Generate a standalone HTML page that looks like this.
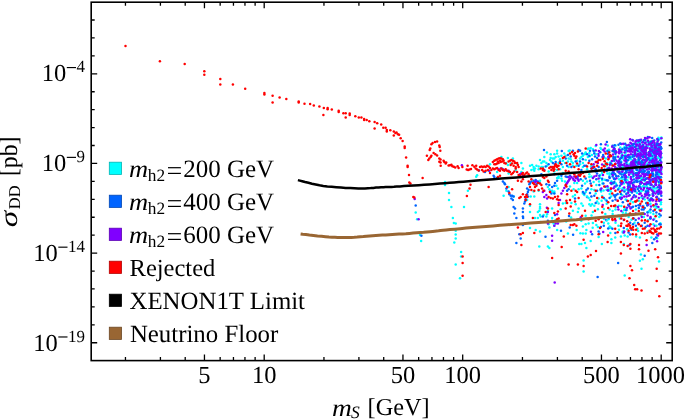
<!DOCTYPE html>
<html><head><meta charset="utf-8"><style>
html,body{margin:0;padding:0;background:#fff;}
svg{display:block;will-change:transform;}
text{font-family:"Liberation Serif",serif;fill:#000;text-rendering:geometricPrecision;}
.gl{will-change:transform;}
</style></head><body>
<svg width="685" height="420" viewBox="0 0 685 420">
<rect width="685" height="420" fill="#fff"/>
<g><circle cx="653.0" cy="193.0" r="1.25" fill="#00ffff"/><circle cx="655.1" cy="151.7" r="1.25" fill="#00ffff"/><circle cx="621.1" cy="178.1" r="1.25" fill="#00ffff"/><circle cx="625.9" cy="189.7" r="1.25" fill="#00ffff"/><circle cx="627.4" cy="180.3" r="1.25" fill="#00ffff"/><circle cx="606.6" cy="189.7" r="1.25" fill="#00ffff"/><circle cx="607.7" cy="145.6" r="1.25" fill="#00ffff"/><circle cx="626.6" cy="193.4" r="1.25" fill="#00ffff"/><circle cx="585.4" cy="154.0" r="1.25" fill="#00ffff"/><circle cx="649.2" cy="181.8" r="1.25" fill="#00ffff"/><circle cx="631.1" cy="191.9" r="1.25" fill="#00ffff"/><circle cx="600.5" cy="148.0" r="1.25" fill="#00ffff"/><circle cx="646.3" cy="202.8" r="1.25" fill="#00ffff"/><circle cx="624.7" cy="149.9" r="1.25" fill="#00ffff"/><circle cx="647.6" cy="183.4" r="1.25" fill="#00ffff"/><circle cx="569.7" cy="150.6" r="1.25" fill="#00ffff"/><circle cx="646.6" cy="160.7" r="1.25" fill="#00ffff"/><circle cx="638.1" cy="178.7" r="1.25" fill="#00ffff"/><circle cx="650.9" cy="149.7" r="1.25" fill="#00ffff"/><circle cx="546.9" cy="152.5" r="1.25" fill="#00ffff"/><circle cx="620.5" cy="196.9" r="1.25" fill="#00ffff"/><circle cx="602.2" cy="180.2" r="1.25" fill="#00ffff"/><circle cx="623.6" cy="189.1" r="1.25" fill="#00ffff"/><circle cx="653.9" cy="206.4" r="1.25" fill="#00ffff"/><circle cx="630.2" cy="186.8" r="1.25" fill="#00ffff"/><circle cx="648.0" cy="187.9" r="1.25" fill="#00ffff"/><circle cx="650.7" cy="148.5" r="1.25" fill="#00ffff"/><circle cx="641.7" cy="147.6" r="1.25" fill="#00ffff"/><circle cx="624.1" cy="209.9" r="1.25" fill="#00ffff"/><circle cx="640.0" cy="185.7" r="1.25" fill="#00ffff"/><circle cx="652.8" cy="151.7" r="1.25" fill="#00ffff"/><circle cx="634.0" cy="163.6" r="1.25" fill="#00ffff"/><circle cx="658.3" cy="146.1" r="1.25" fill="#00ffff"/><circle cx="660.9" cy="147.2" r="1.25" fill="#00ffff"/><circle cx="644.9" cy="142.7" r="1.25" fill="#00ffff"/><circle cx="637.2" cy="165.5" r="1.25" fill="#00ffff"/><circle cx="657.5" cy="179.9" r="1.25" fill="#00ffff"/><circle cx="631.0" cy="173.7" r="1.25" fill="#00ffff"/><circle cx="638.8" cy="142.1" r="1.25" fill="#00ffff"/><circle cx="639.7" cy="159.5" r="1.25" fill="#00ffff"/><circle cx="591.9" cy="154.9" r="1.25" fill="#00ffff"/><circle cx="647.3" cy="169.5" r="1.25" fill="#00ffff"/><circle cx="649.1" cy="154.4" r="1.25" fill="#00ffff"/><circle cx="641.4" cy="197.5" r="1.25" fill="#00ffff"/><circle cx="661.3" cy="172.1" r="1.25" fill="#00ffff"/><circle cx="609.5" cy="175.1" r="1.25" fill="#00ffff"/><circle cx="622.7" cy="188.2" r="1.25" fill="#00ffff"/><circle cx="637.3" cy="162.4" r="1.25" fill="#00ffff"/><circle cx="651.1" cy="158.3" r="1.25" fill="#00ffff"/><circle cx="652.9" cy="191.1" r="1.25" fill="#00ffff"/><circle cx="647.5" cy="212.1" r="1.25" fill="#00ffff"/><circle cx="654.4" cy="151.2" r="1.25" fill="#00ffff"/><circle cx="600.4" cy="188.9" r="1.25" fill="#00ffff"/><circle cx="658.1" cy="158.0" r="1.25" fill="#00ffff"/><circle cx="661.4" cy="137.6" r="1.25" fill="#00ffff"/><circle cx="659.3" cy="187.0" r="1.25" fill="#00ffff"/><circle cx="653.1" cy="173.8" r="1.25" fill="#00ffff"/><circle cx="638.0" cy="176.0" r="1.25" fill="#00ffff"/><circle cx="624.4" cy="147.2" r="1.25" fill="#00ffff"/><circle cx="641.8" cy="146.9" r="1.25" fill="#00ffff"/><circle cx="654.2" cy="153.8" r="1.25" fill="#00ffff"/><circle cx="602.4" cy="183.6" r="1.25" fill="#00ffff"/><circle cx="623.9" cy="183.6" r="1.25" fill="#00ffff"/><circle cx="647.8" cy="145.9" r="1.25" fill="#00ffff"/><circle cx="625.6" cy="208.7" r="1.25" fill="#00ffff"/><circle cx="639.3" cy="181.5" r="1.25" fill="#00ffff"/><circle cx="600.4" cy="175.0" r="1.25" fill="#00ffff"/><circle cx="660.2" cy="158.8" r="1.25" fill="#00ffff"/><circle cx="630.5" cy="156.6" r="1.25" fill="#00ffff"/><circle cx="654.1" cy="180.4" r="1.25" fill="#00ffff"/><circle cx="568.6" cy="151.0" r="1.25" fill="#00ffff"/><circle cx="644.5" cy="180.8" r="1.25" fill="#00ffff"/><circle cx="646.7" cy="183.4" r="1.25" fill="#00ffff"/><circle cx="640.1" cy="147.5" r="1.25" fill="#00ffff"/><circle cx="645.5" cy="146.5" r="1.25" fill="#00ffff"/><circle cx="623.5" cy="159.1" r="1.25" fill="#00ffff"/><circle cx="645.5" cy="153.2" r="1.25" fill="#00ffff"/><circle cx="581.3" cy="220.8" r="1.25" fill="#00ffff"/><circle cx="636.8" cy="153.8" r="1.25" fill="#00ffff"/><circle cx="615.7" cy="186.8" r="1.25" fill="#00ffff"/><circle cx="629.6" cy="159.0" r="1.25" fill="#00ffff"/><circle cx="609.5" cy="173.2" r="1.25" fill="#00ffff"/><circle cx="628.8" cy="147.1" r="1.25" fill="#00ffff"/><circle cx="658.4" cy="176.0" r="1.25" fill="#00ffff"/><circle cx="645.3" cy="193.4" r="1.25" fill="#00ffff"/><circle cx="620.9" cy="236.6" r="1.25" fill="#00ffff"/><circle cx="631.4" cy="159.4" r="1.25" fill="#00ffff"/><circle cx="644.0" cy="177.5" r="1.25" fill="#00ffff"/><circle cx="622.3" cy="195.1" r="1.25" fill="#00ffff"/><circle cx="653.6" cy="168.2" r="1.25" fill="#00ffff"/><circle cx="628.6" cy="155.5" r="1.25" fill="#00ffff"/><circle cx="659.3" cy="183.7" r="1.25" fill="#00ffff"/><circle cx="639.0" cy="171.9" r="1.25" fill="#00ffff"/><circle cx="625.9" cy="213.3" r="1.25" fill="#00ffff"/><circle cx="640.9" cy="171.5" r="1.25" fill="#00ffff"/><circle cx="656.1" cy="188.5" r="1.25" fill="#00ffff"/><circle cx="648.1" cy="219.9" r="1.25" fill="#00ffff"/><circle cx="621.2" cy="161.6" r="1.25" fill="#00ffff"/><circle cx="604.1" cy="165.0" r="1.25" fill="#00ffff"/><circle cx="660.8" cy="204.3" r="1.25" fill="#00ffff"/><circle cx="655.2" cy="205.8" r="1.25" fill="#00ffff"/><circle cx="610.9" cy="191.5" r="1.25" fill="#00ffff"/><circle cx="648.5" cy="173.6" r="1.25" fill="#00ffff"/><circle cx="636.7" cy="170.1" r="1.25" fill="#00ffff"/><circle cx="606.7" cy="165.6" r="1.25" fill="#00ffff"/><circle cx="652.4" cy="144.4" r="1.25" fill="#00ffff"/><circle cx="650.0" cy="153.6" r="1.25" fill="#00ffff"/><circle cx="646.9" cy="186.4" r="1.25" fill="#00ffff"/><circle cx="646.4" cy="173.3" r="1.25" fill="#00ffff"/><circle cx="649.9" cy="185.0" r="1.25" fill="#00ffff"/><circle cx="625.9" cy="152.4" r="1.25" fill="#00ffff"/><circle cx="640.8" cy="180.4" r="1.25" fill="#00ffff"/><circle cx="618.8" cy="205.7" r="1.25" fill="#00ffff"/><circle cx="628.8" cy="145.1" r="1.25" fill="#00ffff"/><circle cx="623.2" cy="188.3" r="1.25" fill="#00ffff"/><circle cx="622.8" cy="179.5" r="1.25" fill="#00ffff"/><circle cx="660.9" cy="153.6" r="1.25" fill="#00ffff"/><circle cx="648.5" cy="166.2" r="1.25" fill="#00ffff"/><circle cx="601.3" cy="149.2" r="1.25" fill="#00ffff"/><circle cx="608.3" cy="223.4" r="1.25" fill="#00ffff"/><circle cx="620.5" cy="191.9" r="1.25" fill="#00ffff"/><circle cx="618.9" cy="187.9" r="1.25" fill="#00ffff"/><circle cx="615.6" cy="145.5" r="1.25" fill="#00ffff"/><circle cx="638.6" cy="170.9" r="1.25" fill="#00ffff"/><circle cx="619.1" cy="179.2" r="1.25" fill="#00ffff"/><circle cx="643.9" cy="197.6" r="1.25" fill="#00ffff"/><circle cx="587.6" cy="149.0" r="1.25" fill="#00ffff"/><circle cx="660.5" cy="138.4" r="1.25" fill="#00ffff"/><circle cx="589.6" cy="156.2" r="1.25" fill="#00ffff"/><circle cx="631.8" cy="168.7" r="1.25" fill="#00ffff"/><circle cx="623.3" cy="174.1" r="1.25" fill="#00ffff"/><circle cx="640.8" cy="177.9" r="1.25" fill="#00ffff"/><circle cx="636.6" cy="165.7" r="1.25" fill="#00ffff"/><circle cx="637.0" cy="193.1" r="1.25" fill="#00ffff"/><circle cx="609.2" cy="190.3" r="1.25" fill="#00ffff"/><circle cx="626.8" cy="209.7" r="1.25" fill="#00ffff"/><circle cx="652.6" cy="186.0" r="1.25" fill="#00ffff"/><circle cx="621.0" cy="150.4" r="1.25" fill="#00ffff"/><circle cx="638.4" cy="174.0" r="1.25" fill="#00ffff"/><circle cx="650.2" cy="185.1" r="1.25" fill="#00ffff"/><circle cx="651.9" cy="152.1" r="1.25" fill="#00ffff"/><circle cx="629.7" cy="163.8" r="1.25" fill="#00ffff"/><circle cx="630.2" cy="191.4" r="1.25" fill="#00ffff"/><circle cx="630.5" cy="200.8" r="1.25" fill="#00ffff"/><circle cx="660.1" cy="159.4" r="1.25" fill="#00ffff"/><circle cx="658.4" cy="137.8" r="1.25" fill="#00ffff"/><circle cx="576.7" cy="230.0" r="1.25" fill="#00ffff"/><circle cx="602.0" cy="172.9" r="1.25" fill="#00ffff"/><circle cx="649.6" cy="159.3" r="1.25" fill="#00ffff"/><circle cx="647.4" cy="190.5" r="1.25" fill="#00ffff"/><circle cx="637.2" cy="187.6" r="1.25" fill="#00ffff"/><circle cx="642.9" cy="167.0" r="1.25" fill="#00ffff"/><circle cx="651.4" cy="169.4" r="1.25" fill="#00ffff"/><circle cx="658.9" cy="151.8" r="1.25" fill="#00ffff"/><circle cx="566.2" cy="221.5" r="1.25" fill="#00ffff"/><circle cx="616.1" cy="185.5" r="1.25" fill="#00ffff"/><circle cx="638.0" cy="176.2" r="1.25" fill="#00ffff"/><circle cx="655.2" cy="177.3" r="1.25" fill="#00ffff"/><circle cx="647.0" cy="141.8" r="1.25" fill="#00ffff"/><circle cx="625.9" cy="146.4" r="1.25" fill="#00ffff"/><circle cx="609.2" cy="190.3" r="1.25" fill="#00ffff"/><circle cx="652.6" cy="172.0" r="1.25" fill="#00ffff"/><circle cx="600.4" cy="170.7" r="1.25" fill="#00ffff"/><circle cx="650.7" cy="198.7" r="1.25" fill="#00ffff"/><circle cx="647.4" cy="163.5" r="1.25" fill="#00ffff"/><circle cx="636.8" cy="181.6" r="1.25" fill="#00ffff"/><circle cx="653.0" cy="158.0" r="1.25" fill="#00ffff"/><circle cx="628.4" cy="187.9" r="1.25" fill="#00ffff"/><circle cx="604.1" cy="157.6" r="1.25" fill="#00ffff"/><circle cx="626.5" cy="167.7" r="1.25" fill="#00ffff"/><circle cx="625.4" cy="147.0" r="1.25" fill="#00ffff"/><circle cx="628.8" cy="214.0" r="1.25" fill="#00ffff"/><circle cx="652.1" cy="172.6" r="1.25" fill="#00ffff"/><circle cx="651.6" cy="147.7" r="1.25" fill="#00ffff"/><circle cx="595.7" cy="146.0" r="1.25" fill="#00ffff"/><circle cx="652.1" cy="152.8" r="1.25" fill="#00ffff"/><circle cx="642.0" cy="179.3" r="1.25" fill="#00ffff"/><circle cx="599.0" cy="181.4" r="1.25" fill="#00ffff"/><circle cx="654.7" cy="188.3" r="1.25" fill="#00ffff"/><circle cx="660.3" cy="223.3" r="1.25" fill="#00ffff"/><circle cx="650.4" cy="160.0" r="1.25" fill="#00ffff"/><circle cx="659.0" cy="152.1" r="1.25" fill="#00ffff"/><circle cx="651.0" cy="150.1" r="1.25" fill="#00ffff"/><circle cx="633.6" cy="171.8" r="1.25" fill="#00ffff"/><circle cx="610.4" cy="170.3" r="1.25" fill="#00ffff"/><circle cx="657.8" cy="157.4" r="1.25" fill="#00ffff"/><circle cx="658.5" cy="139.0" r="1.25" fill="#00ffff"/><circle cx="648.6" cy="200.0" r="1.25" fill="#00ffff"/><circle cx="645.7" cy="151.0" r="1.25" fill="#00ffff"/><circle cx="660.7" cy="168.6" r="1.25" fill="#00ffff"/><circle cx="608.2" cy="187.8" r="1.25" fill="#00ffff"/><circle cx="610.2" cy="162.5" r="1.25" fill="#00ffff"/><circle cx="646.4" cy="165.2" r="1.25" fill="#00ffff"/><circle cx="540.7" cy="222.1" r="1.25" fill="#00ffff"/><circle cx="615.9" cy="156.5" r="1.25" fill="#00ffff"/><circle cx="625.1" cy="181.0" r="1.25" fill="#00ffff"/><circle cx="626.7" cy="145.2" r="1.25" fill="#00ffff"/><circle cx="633.3" cy="151.9" r="1.25" fill="#00ffff"/><circle cx="619.3" cy="188.2" r="1.25" fill="#00ffff"/><circle cx="615.8" cy="183.4" r="1.25" fill="#00ffff"/><circle cx="645.9" cy="194.8" r="1.25" fill="#00ffff"/><circle cx="659.9" cy="183.0" r="1.25" fill="#00ffff"/><circle cx="593.4" cy="166.1" r="1.25" fill="#00ffff"/><circle cx="630.1" cy="165.2" r="1.25" fill="#00ffff"/><circle cx="642.1" cy="178.5" r="1.25" fill="#00ffff"/><circle cx="595.5" cy="218.1" r="1.25" fill="#00ffff"/><circle cx="618.2" cy="163.6" r="1.25" fill="#00ffff"/><circle cx="654.3" cy="218.7" r="1.25" fill="#00ffff"/><circle cx="641.0" cy="145.7" r="1.25" fill="#00ffff"/><circle cx="649.2" cy="210.9" r="1.25" fill="#00ffff"/><circle cx="639.3" cy="177.8" r="1.25" fill="#0064ff"/><circle cx="615.4" cy="232.9" r="1.25" fill="#0064ff"/><circle cx="634.3" cy="156.0" r="1.25" fill="#0064ff"/><circle cx="640.3" cy="169.5" r="1.25" fill="#00ffff"/><circle cx="661.3" cy="195.8" r="1.25" fill="#0064ff"/><circle cx="628.1" cy="164.9" r="1.25" fill="#00ffff"/><circle cx="639.9" cy="205.4" r="1.25" fill="#0064ff"/><circle cx="659.3" cy="200.5" r="1.25" fill="#0064ff"/><circle cx="643.0" cy="207.3" r="1.25" fill="#00ffff"/><circle cx="655.7" cy="152.4" r="1.25" fill="#0064ff"/><circle cx="654.7" cy="168.7" r="1.25" fill="#0064ff"/><circle cx="648.9" cy="143.5" r="1.25" fill="#0064ff"/><circle cx="643.5" cy="186.4" r="1.25" fill="#0064ff"/><circle cx="633.5" cy="218.3" r="1.25" fill="#0064ff"/><circle cx="640.8" cy="187.2" r="1.25" fill="#00ffff"/><circle cx="643.4" cy="206.0" r="1.25" fill="#00ffff"/><circle cx="628.2" cy="177.2" r="1.25" fill="#00ffff"/><circle cx="657.9" cy="149.2" r="1.25" fill="#0064ff"/><circle cx="653.1" cy="143.5" r="1.25" fill="#00ffff"/><circle cx="617.6" cy="193.9" r="1.25" fill="#0064ff"/><circle cx="635.7" cy="219.9" r="1.25" fill="#0064ff"/><circle cx="635.2" cy="154.0" r="1.25" fill="#0064ff"/><circle cx="650.8" cy="143.2" r="1.25" fill="#0064ff"/><circle cx="616.1" cy="195.1" r="1.25" fill="#0064ff"/><circle cx="633.2" cy="187.2" r="1.25" fill="#0064ff"/><circle cx="628.6" cy="185.6" r="1.25" fill="#0064ff"/><circle cx="638.1" cy="231.1" r="1.25" fill="#00ffff"/><circle cx="648.7" cy="183.6" r="1.25" fill="#0064ff"/><circle cx="606.7" cy="163.9" r="1.25" fill="#0064ff"/><circle cx="653.7" cy="151.8" r="1.25" fill="#0064ff"/><circle cx="600.9" cy="144.3" r="1.25" fill="#0064ff"/><circle cx="651.7" cy="153.8" r="1.25" fill="#0064ff"/><circle cx="643.8" cy="164.5" r="1.25" fill="#0064ff"/><circle cx="652.0" cy="141.4" r="1.25" fill="#00ffff"/><circle cx="646.6" cy="193.1" r="1.25" fill="#0064ff"/><circle cx="649.1" cy="143.8" r="1.25" fill="#0064ff"/><circle cx="635.9" cy="166.0" r="1.25" fill="#0064ff"/><circle cx="620.2" cy="173.1" r="1.25" fill="#00ffff"/><circle cx="647.8" cy="159.3" r="1.25" fill="#0064ff"/><circle cx="649.4" cy="151.9" r="1.25" fill="#0064ff"/><circle cx="625.4" cy="154.7" r="1.25" fill="#00ffff"/><circle cx="661.1" cy="181.2" r="1.25" fill="#0064ff"/><circle cx="632.8" cy="170.8" r="1.25" fill="#00ffff"/><circle cx="639.6" cy="187.3" r="1.25" fill="#0064ff"/><circle cx="639.4" cy="151.7" r="1.25" fill="#0064ff"/><circle cx="620.8" cy="181.1" r="1.25" fill="#0064ff"/><circle cx="637.4" cy="143.3" r="1.25" fill="#00ffff"/><circle cx="611.7" cy="164.2" r="1.25" fill="#00ffff"/><circle cx="602.1" cy="195.9" r="1.25" fill="#00ffff"/><circle cx="654.7" cy="191.3" r="1.25" fill="#00ffff"/><circle cx="658.2" cy="161.7" r="1.25" fill="#0064ff"/><circle cx="626.5" cy="172.4" r="1.25" fill="#0064ff"/><circle cx="610.6" cy="182.9" r="1.25" fill="#00ffff"/><circle cx="649.9" cy="201.0" r="1.25" fill="#00ffff"/><circle cx="648.6" cy="141.7" r="1.25" fill="#0064ff"/><circle cx="653.8" cy="148.7" r="1.25" fill="#0064ff"/><circle cx="600.2" cy="177.9" r="1.25" fill="#00ffff"/><circle cx="624.2" cy="156.2" r="1.25" fill="#0064ff"/><circle cx="641.7" cy="163.9" r="1.25" fill="#0064ff"/><circle cx="646.1" cy="154.6" r="1.25" fill="#0064ff"/><circle cx="652.3" cy="144.6" r="1.25" fill="#00ffff"/><circle cx="650.3" cy="218.3" r="1.25" fill="#0064ff"/><circle cx="659.8" cy="192.2" r="1.25" fill="#0064ff"/><circle cx="623.4" cy="189.8" r="1.25" fill="#00ffff"/><circle cx="620.3" cy="147.5" r="1.25" fill="#00ffff"/><circle cx="621.2" cy="172.6" r="1.25" fill="#00ffff"/><circle cx="636.7" cy="177.2" r="1.25" fill="#0064ff"/><circle cx="637.8" cy="161.3" r="1.25" fill="#00ffff"/><circle cx="644.0" cy="149.4" r="1.25" fill="#0064ff"/><circle cx="661.0" cy="177.2" r="1.25" fill="#0064ff"/><circle cx="603.5" cy="190.6" r="1.25" fill="#00ffff"/><circle cx="640.6" cy="153.9" r="1.25" fill="#0064ff"/><circle cx="661.5" cy="157.4" r="1.25" fill="#00ffff"/><circle cx="650.7" cy="198.6" r="1.25" fill="#00ffff"/><circle cx="650.5" cy="156.5" r="1.25" fill="#00ffff"/><circle cx="636.6" cy="169.7" r="1.25" fill="#0064ff"/><circle cx="635.2" cy="191.3" r="1.25" fill="#0064ff"/><circle cx="657.7" cy="162.2" r="1.25" fill="#0064ff"/><circle cx="658.4" cy="194.0" r="1.25" fill="#0064ff"/><circle cx="622.1" cy="165.0" r="1.25" fill="#0064ff"/><circle cx="641.4" cy="165.9" r="1.25" fill="#0064ff"/><circle cx="641.4" cy="170.7" r="1.25" fill="#0064ff"/><circle cx="610.3" cy="232.9" r="1.25" fill="#00ffff"/><circle cx="622.1" cy="177.0" r="1.25" fill="#0064ff"/><circle cx="632.8" cy="162.4" r="1.25" fill="#00ffff"/><circle cx="652.2" cy="138.0" r="1.25" fill="#0064ff"/><circle cx="659.7" cy="173.2" r="1.25" fill="#0064ff"/><circle cx="619.6" cy="159.5" r="1.25" fill="#0064ff"/><circle cx="618.5" cy="144.8" r="1.25" fill="#0064ff"/><circle cx="643.9" cy="140.3" r="1.25" fill="#0064ff"/><circle cx="643.0" cy="142.1" r="1.25" fill="#0064ff"/><circle cx="655.7" cy="182.1" r="1.25" fill="#0064ff"/><circle cx="643.2" cy="186.3" r="1.25" fill="#00ffff"/><circle cx="656.4" cy="179.8" r="1.25" fill="#00ffff"/><circle cx="635.2" cy="197.3" r="1.25" fill="#00ffff"/><circle cx="626.1" cy="210.2" r="1.25" fill="#0064ff"/><circle cx="653.3" cy="190.1" r="1.25" fill="#00ffff"/><circle cx="642.6" cy="150.2" r="1.25" fill="#0064ff"/><circle cx="656.6" cy="180.7" r="1.25" fill="#0064ff"/><circle cx="642.6" cy="148.4" r="1.25" fill="#0064ff"/><circle cx="632.4" cy="164.5" r="1.25" fill="#0064ff"/><circle cx="659.5" cy="147.2" r="1.25" fill="#00ffff"/><circle cx="635.2" cy="161.7" r="1.25" fill="#0064ff"/><circle cx="661.2" cy="166.9" r="1.25" fill="#00ffff"/><circle cx="623.7" cy="173.9" r="1.25" fill="#00ffff"/><circle cx="634.2" cy="151.3" r="1.25" fill="#00ffff"/><circle cx="646.1" cy="148.0" r="1.25" fill="#0064ff"/><circle cx="638.2" cy="140.4" r="1.25" fill="#0064ff"/><circle cx="617.6" cy="171.6" r="1.25" fill="#0064ff"/><circle cx="657.8" cy="187.3" r="1.25" fill="#0064ff"/><circle cx="626.8" cy="148.0" r="1.25" fill="#0064ff"/><circle cx="636.7" cy="181.8" r="1.25" fill="#0064ff"/><circle cx="660.1" cy="173.2" r="1.25" fill="#00ffff"/><circle cx="643.2" cy="156.9" r="1.25" fill="#0064ff"/><circle cx="620.8" cy="182.6" r="1.25" fill="#0064ff"/><circle cx="592.7" cy="227.7" r="1.25" fill="#00ffff"/><circle cx="609.2" cy="150.8" r="1.25" fill="#0064ff"/><circle cx="602.2" cy="178.7" r="1.25" fill="#0064ff"/><circle cx="626.6" cy="150.3" r="1.25" fill="#0064ff"/><circle cx="658.7" cy="193.3" r="1.25" fill="#0064ff"/><circle cx="652.8" cy="149.5" r="1.25" fill="#00ffff"/><circle cx="661.0" cy="202.2" r="1.25" fill="#00ffff"/><circle cx="656.0" cy="170.6" r="1.25" fill="#00ffff"/><circle cx="639.5" cy="176.5" r="1.25" fill="#0064ff"/><circle cx="602.5" cy="157.0" r="1.25" fill="#0064ff"/><circle cx="647.6" cy="204.7" r="1.25" fill="#0064ff"/><circle cx="635.7" cy="181.4" r="1.25" fill="#00ffff"/><circle cx="632.0" cy="164.9" r="1.25" fill="#0064ff"/><circle cx="655.6" cy="175.1" r="1.25" fill="#0064ff"/><circle cx="585.6" cy="152.6" r="1.25" fill="#00ffff"/><circle cx="607.2" cy="162.9" r="1.25" fill="#00ffff"/><circle cx="605.8" cy="158.5" r="1.25" fill="#00ffff"/><circle cx="630.3" cy="146.4" r="1.25" fill="#0064ff"/><circle cx="648.6" cy="178.2" r="1.25" fill="#00ffff"/><circle cx="643.1" cy="150.1" r="1.25" fill="#0064ff"/><circle cx="650.5" cy="147.6" r="1.25" fill="#00ffff"/><circle cx="549.4" cy="227.4" r="1.25" fill="#00ffff"/><circle cx="656.4" cy="152.8" r="1.25" fill="#00ffff"/><circle cx="655.1" cy="161.5" r="1.25" fill="#00ffff"/><circle cx="636.7" cy="140.5" r="1.25" fill="#0064ff"/><circle cx="654.5" cy="161.8" r="1.25" fill="#0064ff"/><circle cx="639.6" cy="150.5" r="1.25" fill="#00ffff"/><circle cx="641.6" cy="156.0" r="1.25" fill="#0064ff"/><circle cx="642.3" cy="179.4" r="1.25" fill="#0064ff"/><circle cx="632.6" cy="177.1" r="1.25" fill="#00ffff"/><circle cx="652.2" cy="162.8" r="1.25" fill="#00ffff"/><circle cx="601.1" cy="191.6" r="1.25" fill="#00ffff"/><circle cx="652.6" cy="187.7" r="1.25" fill="#00ffff"/><circle cx="633.1" cy="189.7" r="1.25" fill="#0064ff"/><circle cx="607.4" cy="173.6" r="1.25" fill="#00ffff"/><circle cx="619.3" cy="150.4" r="1.25" fill="#0064ff"/><circle cx="647.7" cy="172.5" r="1.25" fill="#0064ff"/><circle cx="647.1" cy="165.9" r="1.25" fill="#0064ff"/><circle cx="642.5" cy="190.5" r="1.25" fill="#00ffff"/><circle cx="613.9" cy="195.2" r="1.25" fill="#0064ff"/><circle cx="619.1" cy="150.1" r="1.25" fill="#00ffff"/><circle cx="625.9" cy="176.2" r="1.25" fill="#0064ff"/><circle cx="643.7" cy="213.1" r="1.25" fill="#00ffff"/><circle cx="620.2" cy="161.3" r="1.25" fill="#00ffff"/><circle cx="621.7" cy="153.3" r="1.25" fill="#00ffff"/><circle cx="621.5" cy="155.6" r="1.25" fill="#00ffff"/><circle cx="624.4" cy="191.6" r="1.25" fill="#0064ff"/><circle cx="657.7" cy="148.6" r="1.25" fill="#0064ff"/><circle cx="640.1" cy="142.1" r="1.25" fill="#00ffff"/><circle cx="654.0" cy="182.1" r="1.25" fill="#00ffff"/><circle cx="623.9" cy="144.3" r="1.25" fill="#00ffff"/><circle cx="647.3" cy="205.5" r="1.25" fill="#0064ff"/><circle cx="626.2" cy="163.2" r="1.25" fill="#00ffff"/><circle cx="645.3" cy="187.0" r="1.25" fill="#00ffff"/><circle cx="611.7" cy="161.3" r="1.25" fill="#00ffff"/><circle cx="635.3" cy="168.2" r="1.25" fill="#0064ff"/><circle cx="640.2" cy="144.2" r="1.25" fill="#00ffff"/><circle cx="634.1" cy="195.3" r="1.25" fill="#0064ff"/><circle cx="623.2" cy="167.0" r="1.25" fill="#00ffff"/><circle cx="622.5" cy="148.7" r="1.25" fill="#00ffff"/><circle cx="648.3" cy="177.7" r="1.25" fill="#00ffff"/><circle cx="623.0" cy="157.3" r="1.25" fill="#00ffff"/><circle cx="600.2" cy="152.2" r="1.25" fill="#0064ff"/><circle cx="646.2" cy="147.0" r="1.25" fill="#0064ff"/><circle cx="621.0" cy="162.6" r="1.25" fill="#0064ff"/><circle cx="661.4" cy="208.9" r="1.25" fill="#00ffff"/><circle cx="658.7" cy="181.9" r="1.25" fill="#0064ff"/><circle cx="652.1" cy="199.3" r="1.25" fill="#0064ff"/><circle cx="653.2" cy="152.6" r="1.25" fill="#0064ff"/><circle cx="641.0" cy="162.3" r="1.25" fill="#0064ff"/><circle cx="569.7" cy="227.6" r="1.25" fill="#0064ff"/><circle cx="659.0" cy="169.4" r="1.25" fill="#0064ff"/><circle cx="658.7" cy="148.8" r="1.25" fill="#0064ff"/><circle cx="620.8" cy="194.1" r="1.25" fill="#0064ff"/><circle cx="603.9" cy="218.8" r="1.25" fill="#00ffff"/><circle cx="640.2" cy="192.6" r="1.25" fill="#00ffff"/><circle cx="653.1" cy="195.0" r="1.25" fill="#00ffff"/><circle cx="657.2" cy="139.5" r="1.25" fill="#00ffff"/><circle cx="637.1" cy="172.9" r="1.25" fill="#0064ff"/><circle cx="629.7" cy="168.2" r="1.25" fill="#0064ff"/><circle cx="626.5" cy="162.0" r="1.25" fill="#0064ff"/><circle cx="646.2" cy="154.5" r="1.25" fill="#0064ff"/><circle cx="651.6" cy="198.6" r="1.25" fill="#0064ff"/><circle cx="644.9" cy="160.0" r="1.25" fill="#0064ff"/><circle cx="624.1" cy="175.1" r="1.25" fill="#0064ff"/><circle cx="639.9" cy="140.0" r="1.25" fill="#0064ff"/><circle cx="641.9" cy="177.7" r="1.25" fill="#00ffff"/><circle cx="608.6" cy="219.2" r="1.25" fill="#00ffff"/><circle cx="600.6" cy="190.1" r="1.25" fill="#0064ff"/><circle cx="661.2" cy="142.4" r="1.25" fill="#0064ff"/><circle cx="660.6" cy="168.7" r="1.25" fill="#00ffff"/><circle cx="591.5" cy="215.5" r="1.25" fill="#00ffff"/><circle cx="649.8" cy="160.6" r="1.25" fill="#0064ff"/><circle cx="655.5" cy="169.0" r="1.25" fill="#0064ff"/><circle cx="630.8" cy="157.5" r="1.25" fill="#00ffff"/><circle cx="645.6" cy="161.1" r="1.25" fill="#0064ff"/><circle cx="629.1" cy="157.3" r="1.25" fill="#0064ff"/><circle cx="643.7" cy="178.5" r="1.25" fill="#00ffff"/><circle cx="644.9" cy="180.0" r="1.25" fill="#0064ff"/><circle cx="608.0" cy="180.5" r="1.25" fill="#0064ff"/><circle cx="643.1" cy="172.1" r="1.25" fill="#0064ff"/><circle cx="643.9" cy="150.0" r="1.25" fill="#0064ff"/><circle cx="645.3" cy="139.7" r="1.25" fill="#0064ff"/><circle cx="659.3" cy="173.1" r="1.25" fill="#0064ff"/><circle cx="654.1" cy="186.7" r="1.25" fill="#00ffff"/><circle cx="632.0" cy="192.6" r="1.25" fill="#0064ff"/><circle cx="646.3" cy="166.3" r="1.25" fill="#00ffff"/><circle cx="641.3" cy="191.1" r="1.25" fill="#00ffff"/><circle cx="656.2" cy="172.7" r="1.25" fill="#0064ff"/><circle cx="627.5" cy="170.2" r="1.25" fill="#0064ff"/><circle cx="635.6" cy="162.3" r="1.25" fill="#0064ff"/><circle cx="656.5" cy="161.5" r="1.25" fill="#00ffff"/><circle cx="609.7" cy="193.9" r="1.25" fill="#00ffff"/><circle cx="652.5" cy="155.9" r="1.25" fill="#0064ff"/><circle cx="618.3" cy="176.2" r="1.25" fill="#0064ff"/><circle cx="561.0" cy="230.7" r="1.25" fill="#0064ff"/><circle cx="636.1" cy="149.8" r="1.25" fill="#00ffff"/><circle cx="615.1" cy="174.2" r="1.25" fill="#0064ff"/><circle cx="622.2" cy="183.1" r="1.25" fill="#0064ff"/><circle cx="638.7" cy="157.3" r="1.25" fill="#0064ff"/><circle cx="646.4" cy="178.4" r="1.25" fill="#0064ff"/><circle cx="654.6" cy="144.5" r="1.25" fill="#0064ff"/><circle cx="640.7" cy="164.2" r="1.25" fill="#0064ff"/><circle cx="660.5" cy="178.0" r="1.25" fill="#00ffff"/><circle cx="638.4" cy="164.0" r="1.25" fill="#0064ff"/><circle cx="653.3" cy="146.2" r="1.25" fill="#00ffff"/><circle cx="657.4" cy="162.9" r="1.25" fill="#0064ff"/><circle cx="571.1" cy="217.4" r="1.25" fill="#00ffff"/><circle cx="636.1" cy="162.5" r="1.25" fill="#0064ff"/><circle cx="658.7" cy="174.3" r="1.25" fill="#00ffff"/><circle cx="634.9" cy="164.4" r="1.25" fill="#0064ff"/><circle cx="580.4" cy="233.3" r="1.25" fill="#00ffff"/><circle cx="655.8" cy="164.7" r="1.25" fill="#0064ff"/><circle cx="644.8" cy="171.1" r="1.25" fill="#0064ff"/><circle cx="638.7" cy="146.1" r="1.25" fill="#0064ff"/><circle cx="659.6" cy="174.1" r="1.25" fill="#00ffff"/><circle cx="611.4" cy="181.3" r="1.25" fill="#00ffff"/><circle cx="652.9" cy="160.6" r="1.25" fill="#0064ff"/><circle cx="624.4" cy="207.4" r="1.25" fill="#00ffff"/><circle cx="627.7" cy="183.6" r="1.25" fill="#0064ff"/><circle cx="636.4" cy="146.4" r="1.25" fill="#00ffff"/><circle cx="591.1" cy="166.3" r="1.25" fill="#00ffff"/><circle cx="661.3" cy="148.4" r="1.25" fill="#00ffff"/><circle cx="637.7" cy="166.6" r="1.25" fill="#0064ff"/><circle cx="619.0" cy="172.3" r="1.25" fill="#00ffff"/><circle cx="653.0" cy="175.9" r="1.25" fill="#0064ff"/><circle cx="656.2" cy="163.9" r="1.25" fill="#0064ff"/><circle cx="640.9" cy="152.6" r="1.25" fill="#00ffff"/><circle cx="645.7" cy="156.5" r="1.25" fill="#0064ff"/><circle cx="650.8" cy="144.1" r="1.25" fill="#0064ff"/><circle cx="608.9" cy="149.7" r="1.25" fill="#00ffff"/><circle cx="646.6" cy="189.9" r="1.25" fill="#00ffff"/><circle cx="655.6" cy="158.4" r="1.25" fill="#0064ff"/><circle cx="634.1" cy="146.5" r="1.25" fill="#00ffff"/><circle cx="624.6" cy="177.5" r="1.25" fill="#0064ff"/><circle cx="646.2" cy="165.5" r="1.25" fill="#00ffff"/><circle cx="657.5" cy="162.5" r="1.25" fill="#0064ff"/><circle cx="633.5" cy="175.9" r="1.25" fill="#0064ff"/><circle cx="656.7" cy="145.6" r="1.25" fill="#0064ff"/><circle cx="632.6" cy="172.3" r="1.25" fill="#00ffff"/><circle cx="636.0" cy="149.2" r="1.25" fill="#0064ff"/><circle cx="606.9" cy="142.1" r="1.25" fill="#0064ff"/><circle cx="634.0" cy="179.5" r="1.25" fill="#0064ff"/><circle cx="614.3" cy="178.7" r="1.25" fill="#0064ff"/><circle cx="660.7" cy="186.0" r="1.25" fill="#00ffff"/><circle cx="657.5" cy="171.6" r="1.25" fill="#00ffff"/><circle cx="642.3" cy="173.0" r="1.25" fill="#0064ff"/><circle cx="652.8" cy="153.9" r="1.25" fill="#00ffff"/><circle cx="658.7" cy="176.7" r="1.25" fill="#0064ff"/><circle cx="607.4" cy="150.6" r="1.25" fill="#00ffff"/><circle cx="604.8" cy="179.8" r="1.25" fill="#00ffff"/><circle cx="638.3" cy="148.4" r="1.25" fill="#0064ff"/><circle cx="613.4" cy="157.0" r="1.25" fill="#0064ff"/><circle cx="651.2" cy="141.6" r="1.25" fill="#0064ff"/><circle cx="638.0" cy="223.0" r="1.25" fill="#0064ff"/><circle cx="656.9" cy="196.8" r="1.25" fill="#0064ff"/><circle cx="650.5" cy="177.5" r="1.25" fill="#0064ff"/><circle cx="626.4" cy="166.3" r="1.25" fill="#0064ff"/><circle cx="619.3" cy="163.5" r="1.25" fill="#0064ff"/><circle cx="652.9" cy="164.7" r="1.25" fill="#0064ff"/><circle cx="626.8" cy="164.7" r="1.25" fill="#0064ff"/><circle cx="651.8" cy="147.1" r="1.25" fill="#0064ff"/><circle cx="630.5" cy="167.1" r="1.25" fill="#0064ff"/><circle cx="645.1" cy="154.2" r="1.25" fill="#0064ff"/><circle cx="612.6" cy="176.4" r="1.25" fill="#0064ff"/><circle cx="661.2" cy="161.9" r="1.25" fill="#0064ff"/><circle cx="632.7" cy="156.8" r="1.25" fill="#0064ff"/><circle cx="650.3" cy="150.1" r="1.25" fill="#0064ff"/><circle cx="647.1" cy="174.8" r="1.25" fill="#0064ff"/><circle cx="650.1" cy="151.2" r="1.25" fill="#0064ff"/><circle cx="618.3" cy="161.9" r="1.25" fill="#0064ff"/><circle cx="651.0" cy="150.6" r="1.25" fill="#0064ff"/><circle cx="635.4" cy="161.5" r="1.25" fill="#0064ff"/><circle cx="649.0" cy="195.4" r="1.25" fill="#0064ff"/><circle cx="616.8" cy="185.4" r="1.25" fill="#0064ff"/><circle cx="645.9" cy="191.5" r="1.25" fill="#0064ff"/><circle cx="607.6" cy="151.3" r="1.25" fill="#0064ff"/><circle cx="640.1" cy="175.7" r="1.25" fill="#0064ff"/><circle cx="640.2" cy="163.4" r="1.25" fill="#0064ff"/><circle cx="626.9" cy="167.0" r="1.25" fill="#0064ff"/><circle cx="580.1" cy="150.7" r="1.25" fill="#0064ff"/><circle cx="620.9" cy="167.6" r="1.25" fill="#0064ff"/><circle cx="615.7" cy="150.9" r="1.25" fill="#0064ff"/><circle cx="652.9" cy="162.9" r="1.25" fill="#0064ff"/><circle cx="646.3" cy="203.2" r="1.25" fill="#0064ff"/><circle cx="625.9" cy="156.3" r="1.25" fill="#0064ff"/><circle cx="645.2" cy="150.0" r="1.25" fill="#0064ff"/><circle cx="616.1" cy="176.0" r="1.25" fill="#0064ff"/><circle cx="638.2" cy="162.6" r="1.25" fill="#0064ff"/><circle cx="626.1" cy="159.7" r="1.25" fill="#0064ff"/><circle cx="630.5" cy="149.1" r="1.25" fill="#0064ff"/><circle cx="614.1" cy="160.8" r="1.25" fill="#0064ff"/><circle cx="639.1" cy="177.8" r="1.25" fill="#0064ff"/><circle cx="643.9" cy="151.4" r="1.25" fill="#0064ff"/><circle cx="631.5" cy="188.8" r="1.25" fill="#0064ff"/><circle cx="658.3" cy="166.7" r="1.25" fill="#0064ff"/><circle cx="650.8" cy="184.7" r="1.25" fill="#0064ff"/><circle cx="630.3" cy="146.2" r="1.25" fill="#0064ff"/><circle cx="660.8" cy="146.9" r="1.25" fill="#0064ff"/><circle cx="615.1" cy="157.6" r="1.25" fill="#0064ff"/><circle cx="620.2" cy="158.5" r="1.25" fill="#0064ff"/><circle cx="646.3" cy="184.4" r="1.25" fill="#0064ff"/><circle cx="657.2" cy="172.5" r="1.25" fill="#0064ff"/><circle cx="641.1" cy="146.9" r="1.25" fill="#0064ff"/><circle cx="611.9" cy="182.7" r="1.25" fill="#0064ff"/><circle cx="628.3" cy="190.8" r="1.25" fill="#0064ff"/><circle cx="648.9" cy="172.9" r="1.25" fill="#0064ff"/><circle cx="619.9" cy="185.8" r="1.25" fill="#0064ff"/><circle cx="635.4" cy="160.1" r="1.25" fill="#0064ff"/><circle cx="655.4" cy="184.5" r="1.25" fill="#0064ff"/><circle cx="645.3" cy="138.4" r="1.25" fill="#0064ff"/><circle cx="623.9" cy="175.5" r="1.25" fill="#0064ff"/><circle cx="642.3" cy="149.4" r="1.25" fill="#0064ff"/><circle cx="634.3" cy="190.5" r="1.25" fill="#0064ff"/><circle cx="613.8" cy="151.4" r="1.25" fill="#0064ff"/><circle cx="660.3" cy="177.1" r="1.25" fill="#0064ff"/><circle cx="660.2" cy="160.2" r="1.25" fill="#0064ff"/><circle cx="653.3" cy="165.8" r="1.25" fill="#0064ff"/><circle cx="635.9" cy="155.1" r="1.25" fill="#0064ff"/><circle cx="655.5" cy="180.2" r="1.25" fill="#0064ff"/><circle cx="623.1" cy="169.7" r="1.25" fill="#0064ff"/><circle cx="632.6" cy="145.4" r="1.25" fill="#0064ff"/><circle cx="610.8" cy="163.6" r="1.25" fill="#0064ff"/><circle cx="614.8" cy="179.2" r="1.25" fill="#0064ff"/><circle cx="612.7" cy="172.2" r="1.25" fill="#0064ff"/><circle cx="650.4" cy="149.4" r="1.25" fill="#0064ff"/><circle cx="644.3" cy="166.9" r="1.25" fill="#0064ff"/><circle cx="621.4" cy="157.9" r="1.25" fill="#0064ff"/><circle cx="614.3" cy="181.9" r="1.25" fill="#0064ff"/><circle cx="649.8" cy="164.6" r="1.25" fill="#0064ff"/><circle cx="626.4" cy="193.9" r="1.25" fill="#0064ff"/><circle cx="633.4" cy="174.4" r="1.25" fill="#0064ff"/><circle cx="634.3" cy="158.7" r="1.25" fill="#0064ff"/><circle cx="649.8" cy="200.2" r="1.25" fill="#0064ff"/><circle cx="624.8" cy="147.9" r="1.25" fill="#0064ff"/><circle cx="651.5" cy="160.8" r="1.25" fill="#0064ff"/><circle cx="616.9" cy="168.3" r="1.25" fill="#0064ff"/><circle cx="640.2" cy="170.4" r="1.25" fill="#0064ff"/><circle cx="661.4" cy="168.0" r="1.25" fill="#0064ff"/><circle cx="628.5" cy="184.1" r="1.25" fill="#0064ff"/><circle cx="644.1" cy="184.0" r="1.25" fill="#0064ff"/><circle cx="593.3" cy="168.0" r="1.25" fill="#0064ff"/><circle cx="635.2" cy="190.1" r="1.25" fill="#0064ff"/><circle cx="612.7" cy="170.6" r="1.25" fill="#0064ff"/><circle cx="638.8" cy="160.1" r="1.25" fill="#0064ff"/><circle cx="619.6" cy="166.3" r="1.25" fill="#0064ff"/><circle cx="655.9" cy="184.4" r="1.25" fill="#0064ff"/><circle cx="657.0" cy="153.7" r="1.25" fill="#0064ff"/><circle cx="641.9" cy="160.8" r="1.25" fill="#0064ff"/><circle cx="638.5" cy="205.2" r="1.25" fill="#0064ff"/><circle cx="661.2" cy="148.2" r="1.25" fill="#0064ff"/><circle cx="629.6" cy="185.6" r="1.25" fill="#0064ff"/><circle cx="622.0" cy="171.5" r="1.25" fill="#0064ff"/><circle cx="613.8" cy="150.8" r="1.25" fill="#0064ff"/><circle cx="625.6" cy="170.0" r="1.25" fill="#0064ff"/><circle cx="621.5" cy="174.5" r="1.25" fill="#0064ff"/><circle cx="620.7" cy="182.4" r="1.25" fill="#0064ff"/><circle cx="647.3" cy="183.6" r="1.25" fill="#0064ff"/><circle cx="655.9" cy="156.5" r="1.25" fill="#0064ff"/><circle cx="651.5" cy="145.5" r="1.25" fill="#0064ff"/><circle cx="628.0" cy="186.6" r="1.25" fill="#0064ff"/><circle cx="612.6" cy="145.8" r="1.25" fill="#0064ff"/><circle cx="631.4" cy="170.3" r="1.25" fill="#0064ff"/><circle cx="643.7" cy="154.0" r="1.25" fill="#0064ff"/><circle cx="624.9" cy="173.3" r="1.25" fill="#0064ff"/><circle cx="586.1" cy="165.8" r="1.25" fill="#0064ff"/><circle cx="631.4" cy="166.4" r="1.25" fill="#0064ff"/><circle cx="658.6" cy="198.7" r="1.25" fill="#0064ff"/><circle cx="605.5" cy="186.7" r="1.25" fill="#0064ff"/><circle cx="621.3" cy="164.7" r="1.25" fill="#8000ff"/><circle cx="643.1" cy="155.2" r="1.25" fill="#0064ff"/><circle cx="656.3" cy="159.2" r="1.25" fill="#8000ff"/><circle cx="603.5" cy="156.8" r="1.25" fill="#8000ff"/><circle cx="650.8" cy="176.3" r="1.25" fill="#0064ff"/><circle cx="659.2" cy="155.4" r="1.25" fill="#0064ff"/><circle cx="633.5" cy="173.6" r="1.25" fill="#8000ff"/><circle cx="606.6" cy="171.1" r="1.25" fill="#0064ff"/><circle cx="622.4" cy="149.3" r="1.25" fill="#0064ff"/><circle cx="590.9" cy="231.7" r="1.25" fill="#8000ff"/><circle cx="628.0" cy="160.3" r="1.25" fill="#0064ff"/><circle cx="653.7" cy="169.8" r="1.25" fill="#8000ff"/><circle cx="618.0" cy="189.6" r="1.25" fill="#0064ff"/><circle cx="641.5" cy="166.5" r="1.25" fill="#0064ff"/><circle cx="644.0" cy="148.0" r="1.25" fill="#8000ff"/><circle cx="613.4" cy="158.7" r="1.25" fill="#0064ff"/><circle cx="652.0" cy="167.8" r="1.25" fill="#0064ff"/><circle cx="615.3" cy="152.6" r="1.25" fill="#0064ff"/><circle cx="640.3" cy="146.8" r="1.25" fill="#0064ff"/><circle cx="652.9" cy="167.7" r="1.25" fill="#0064ff"/><circle cx="643.6" cy="209.5" r="1.25" fill="#0064ff"/><circle cx="651.0" cy="166.9" r="1.25" fill="#0064ff"/><circle cx="642.5" cy="173.9" r="1.25" fill="#8000ff"/><circle cx="651.3" cy="189.7" r="1.25" fill="#8000ff"/><circle cx="649.4" cy="195.1" r="1.25" fill="#0064ff"/><circle cx="660.7" cy="167.4" r="1.25" fill="#0064ff"/><circle cx="656.5" cy="177.9" r="1.25" fill="#8000ff"/><circle cx="645.2" cy="194.3" r="1.25" fill="#8000ff"/><circle cx="633.6" cy="185.4" r="1.25" fill="#8000ff"/><circle cx="620.7" cy="164.5" r="1.25" fill="#8000ff"/><circle cx="652.6" cy="194.0" r="1.25" fill="#0064ff"/><circle cx="656.6" cy="163.7" r="1.25" fill="#8000ff"/><circle cx="640.0" cy="169.3" r="1.25" fill="#0064ff"/><circle cx="650.0" cy="149.7" r="1.25" fill="#8000ff"/><circle cx="632.4" cy="183.0" r="1.25" fill="#0064ff"/><circle cx="627.8" cy="188.7" r="1.25" fill="#8000ff"/><circle cx="611.9" cy="174.0" r="1.25" fill="#0064ff"/><circle cx="573.1" cy="234.7" r="1.25" fill="#0064ff"/><circle cx="654.3" cy="178.6" r="1.25" fill="#0064ff"/><circle cx="618.1" cy="156.8" r="1.25" fill="#8000ff"/><circle cx="632.2" cy="162.2" r="1.25" fill="#8000ff"/><circle cx="655.0" cy="147.8" r="1.25" fill="#0064ff"/><circle cx="648.8" cy="171.4" r="1.25" fill="#0064ff"/><circle cx="599.3" cy="185.0" r="1.25" fill="#0064ff"/><circle cx="657.0" cy="174.3" r="1.25" fill="#0064ff"/><circle cx="647.6" cy="172.4" r="1.25" fill="#0064ff"/><circle cx="627.0" cy="165.6" r="1.25" fill="#8000ff"/><circle cx="641.1" cy="139.8" r="1.25" fill="#8000ff"/><circle cx="614.7" cy="149.1" r="1.25" fill="#8000ff"/><circle cx="628.7" cy="154.9" r="1.25" fill="#8000ff"/><circle cx="629.0" cy="148.7" r="1.25" fill="#8000ff"/><circle cx="648.8" cy="152.4" r="1.25" fill="#8000ff"/><circle cx="613.4" cy="183.3" r="1.25" fill="#0064ff"/><circle cx="609.1" cy="167.8" r="1.25" fill="#8000ff"/><circle cx="639.4" cy="187.1" r="1.25" fill="#0064ff"/><circle cx="621.2" cy="199.0" r="1.25" fill="#8000ff"/><circle cx="659.3" cy="189.8" r="1.25" fill="#0064ff"/><circle cx="657.3" cy="139.0" r="1.25" fill="#8000ff"/><circle cx="656.9" cy="176.9" r="1.25" fill="#0064ff"/><circle cx="639.7" cy="154.8" r="1.25" fill="#8000ff"/><circle cx="632.8" cy="144.5" r="1.25" fill="#0064ff"/><circle cx="603.4" cy="183.5" r="1.25" fill="#0064ff"/><circle cx="636.8" cy="156.6" r="1.25" fill="#8000ff"/><circle cx="544.0" cy="149.9" r="1.25" fill="#0064ff"/><circle cx="632.4" cy="140.1" r="1.25" fill="#0064ff"/><circle cx="606.6" cy="180.3" r="1.25" fill="#0064ff"/><circle cx="618.9" cy="151.8" r="1.25" fill="#8000ff"/><circle cx="650.2" cy="187.9" r="1.25" fill="#0064ff"/><circle cx="628.7" cy="144.9" r="1.25" fill="#8000ff"/><circle cx="621.2" cy="144.0" r="1.25" fill="#8000ff"/><circle cx="634.1" cy="182.2" r="1.25" fill="#0064ff"/><circle cx="561.8" cy="151.0" r="1.25" fill="#0064ff"/><circle cx="643.6" cy="150.3" r="1.25" fill="#0064ff"/><circle cx="618.9" cy="172.2" r="1.25" fill="#8000ff"/><circle cx="607.5" cy="168.5" r="1.25" fill="#0064ff"/><circle cx="645.0" cy="153.9" r="1.25" fill="#0064ff"/><circle cx="652.2" cy="180.8" r="1.25" fill="#0064ff"/><circle cx="660.7" cy="188.3" r="1.25" fill="#8000ff"/><circle cx="658.8" cy="144.0" r="1.25" fill="#8000ff"/><circle cx="643.8" cy="176.8" r="1.25" fill="#8000ff"/><circle cx="631.7" cy="207.4" r="1.25" fill="#0064ff"/><circle cx="653.5" cy="165.0" r="1.25" fill="#8000ff"/><circle cx="640.3" cy="164.6" r="1.25" fill="#8000ff"/><circle cx="615.0" cy="196.8" r="1.25" fill="#0064ff"/><circle cx="658.8" cy="145.6" r="1.25" fill="#8000ff"/><circle cx="629.0" cy="174.7" r="1.25" fill="#8000ff"/><circle cx="643.8" cy="152.4" r="1.25" fill="#8000ff"/><circle cx="657.2" cy="144.5" r="1.25" fill="#0064ff"/><circle cx="655.6" cy="182.8" r="1.25" fill="#8000ff"/><circle cx="657.8" cy="162.2" r="1.25" fill="#8000ff"/><circle cx="638.9" cy="186.2" r="1.25" fill="#8000ff"/><circle cx="649.5" cy="153.5" r="1.25" fill="#8000ff"/><circle cx="545.5" cy="236.8" r="1.25" fill="#0064ff"/><circle cx="660.8" cy="148.5" r="1.25" fill="#8000ff"/><circle cx="629.1" cy="182.2" r="1.25" fill="#8000ff"/><circle cx="660.1" cy="144.8" r="1.25" fill="#8000ff"/><circle cx="629.8" cy="187.3" r="1.25" fill="#0064ff"/><circle cx="619.4" cy="171.7" r="1.25" fill="#8000ff"/><circle cx="652.4" cy="179.2" r="1.25" fill="#0064ff"/><circle cx="640.1" cy="183.8" r="1.25" fill="#8000ff"/><circle cx="625.3" cy="150.5" r="1.25" fill="#0064ff"/><circle cx="636.4" cy="146.0" r="1.25" fill="#8000ff"/><circle cx="625.1" cy="179.4" r="1.25" fill="#0064ff"/><circle cx="640.5" cy="153.0" r="1.25" fill="#8000ff"/><circle cx="625.9" cy="160.9" r="1.25" fill="#8000ff"/><circle cx="654.3" cy="140.5" r="1.25" fill="#0064ff"/><circle cx="653.7" cy="191.9" r="1.25" fill="#0064ff"/><circle cx="640.4" cy="148.3" r="1.25" fill="#8000ff"/><circle cx="632.0" cy="191.2" r="1.25" fill="#8000ff"/><circle cx="643.8" cy="173.1" r="1.25" fill="#0064ff"/><circle cx="649.6" cy="175.2" r="1.25" fill="#0064ff"/><circle cx="646.0" cy="152.4" r="1.25" fill="#8000ff"/><circle cx="660.7" cy="215.5" r="1.25" fill="#0064ff"/><circle cx="655.8" cy="156.1" r="1.25" fill="#8000ff"/><circle cx="635.4" cy="165.7" r="1.25" fill="#8000ff"/><circle cx="631.8" cy="168.7" r="1.25" fill="#8000ff"/><circle cx="636.1" cy="186.7" r="1.25" fill="#8000ff"/><circle cx="613.8" cy="173.1" r="1.25" fill="#0064ff"/><circle cx="608.1" cy="190.5" r="1.25" fill="#0064ff"/><circle cx="658.6" cy="150.9" r="1.25" fill="#8000ff"/><circle cx="657.1" cy="143.2" r="1.25" fill="#0064ff"/><circle cx="643.4" cy="179.5" r="1.25" fill="#8000ff"/><circle cx="643.6" cy="157.3" r="1.25" fill="#0064ff"/><circle cx="624.2" cy="187.6" r="1.25" fill="#8000ff"/><circle cx="632.4" cy="151.7" r="1.25" fill="#8000ff"/><circle cx="647.2" cy="166.2" r="1.25" fill="#8000ff"/><circle cx="642.6" cy="151.3" r="1.25" fill="#0064ff"/><circle cx="657.6" cy="163.8" r="1.25" fill="#0064ff"/><circle cx="656.6" cy="152.9" r="1.25" fill="#8000ff"/><circle cx="653.5" cy="192.7" r="1.25" fill="#8000ff"/><circle cx="658.6" cy="190.0" r="1.25" fill="#0064ff"/><circle cx="605.6" cy="144.6" r="1.25" fill="#8000ff"/><circle cx="608.7" cy="217.8" r="1.25" fill="#0064ff"/><circle cx="633.0" cy="185.1" r="1.25" fill="#8000ff"/><circle cx="652.5" cy="200.6" r="1.25" fill="#8000ff"/><circle cx="660.0" cy="179.8" r="1.25" fill="#0064ff"/><circle cx="651.0" cy="206.5" r="1.25" fill="#8000ff"/><circle cx="657.2" cy="151.0" r="1.25" fill="#0064ff"/><circle cx="635.6" cy="173.2" r="1.25" fill="#0064ff"/><circle cx="609.7" cy="178.1" r="1.25" fill="#0064ff"/><circle cx="640.4" cy="171.7" r="1.25" fill="#0064ff"/><circle cx="638.6" cy="163.9" r="1.25" fill="#0064ff"/><circle cx="649.3" cy="155.4" r="1.25" fill="#8000ff"/><circle cx="569.0" cy="216.1" r="1.25" fill="#0064ff"/><circle cx="632.6" cy="165.7" r="1.25" fill="#8000ff"/><circle cx="632.0" cy="183.0" r="1.25" fill="#0064ff"/><circle cx="654.7" cy="165.4" r="1.25" fill="#0064ff"/><circle cx="609.3" cy="168.8" r="1.25" fill="#8000ff"/><circle cx="639.7" cy="144.2" r="1.25" fill="#8000ff"/><circle cx="611.5" cy="184.1" r="1.25" fill="#0064ff"/><circle cx="612.5" cy="151.1" r="1.25" fill="#0064ff"/><circle cx="641.0" cy="176.1" r="1.25" fill="#8000ff"/><circle cx="656.3" cy="170.0" r="1.25" fill="#8000ff"/><circle cx="628.9" cy="172.5" r="1.25" fill="#8000ff"/><circle cx="607.9" cy="153.7" r="1.25" fill="#0064ff"/><circle cx="655.9" cy="167.1" r="1.25" fill="#0064ff"/><circle cx="646.5" cy="154.2" r="1.25" fill="#0064ff"/><circle cx="648.7" cy="157.9" r="1.25" fill="#0064ff"/><circle cx="643.7" cy="149.4" r="1.25" fill="#8000ff"/><circle cx="645.2" cy="175.2" r="1.25" fill="#8000ff"/><circle cx="644.5" cy="175.2" r="1.25" fill="#8000ff"/><circle cx="638.5" cy="159.0" r="1.25" fill="#0064ff"/><circle cx="660.5" cy="187.7" r="1.25" fill="#8000ff"/><circle cx="630.1" cy="170.0" r="1.25" fill="#8000ff"/><circle cx="603.2" cy="155.0" r="1.25" fill="#0064ff"/><circle cx="657.4" cy="150.9" r="1.25" fill="#0064ff"/><circle cx="653.0" cy="167.1" r="1.25" fill="#0064ff"/><circle cx="613.9" cy="178.6" r="1.25" fill="#0064ff"/><circle cx="659.1" cy="185.3" r="1.25" fill="#8000ff"/><circle cx="652.5" cy="149.5" r="1.25" fill="#8000ff"/><circle cx="629.4" cy="206.5" r="1.25" fill="#8000ff"/><circle cx="633.0" cy="189.1" r="1.25" fill="#8000ff"/><circle cx="661.2" cy="162.8" r="1.25" fill="#8000ff"/><circle cx="625.2" cy="143.7" r="1.25" fill="#0064ff"/><circle cx="660.7" cy="149.1" r="1.25" fill="#0064ff"/><circle cx="642.8" cy="162.3" r="1.25" fill="#0064ff"/><circle cx="661.2" cy="153.3" r="1.25" fill="#0064ff"/><circle cx="641.9" cy="162.1" r="1.25" fill="#0064ff"/><circle cx="626.9" cy="207.8" r="1.25" fill="#8000ff"/><circle cx="629.1" cy="189.8" r="1.25" fill="#0064ff"/><circle cx="636.8" cy="181.6" r="1.25" fill="#8000ff"/><circle cx="602.1" cy="164.6" r="1.25" fill="#8000ff"/><circle cx="638.9" cy="191.0" r="1.25" fill="#0064ff"/><circle cx="638.5" cy="161.8" r="1.25" fill="#0064ff"/><circle cx="654.8" cy="166.4" r="1.25" fill="#0064ff"/><circle cx="625.4" cy="179.7" r="1.25" fill="#0064ff"/><circle cx="647.6" cy="157.7" r="1.25" fill="#0064ff"/><circle cx="658.4" cy="140.0" r="1.25" fill="#0064ff"/><circle cx="613.7" cy="170.7" r="1.25" fill="#8000ff"/><circle cx="617.9" cy="207.0" r="1.25" fill="#8000ff"/><circle cx="652.9" cy="165.3" r="1.25" fill="#8000ff"/><circle cx="658.1" cy="149.9" r="1.25" fill="#8000ff"/><circle cx="637.3" cy="169.7" r="1.25" fill="#0064ff"/><circle cx="634.5" cy="143.8" r="1.25" fill="#0064ff"/><circle cx="630.3" cy="167.7" r="1.25" fill="#8000ff"/><circle cx="655.6" cy="146.6" r="1.25" fill="#0064ff"/><circle cx="652.8" cy="159.0" r="1.25" fill="#0064ff"/><circle cx="636.2" cy="180.5" r="1.25" fill="#0064ff"/><circle cx="646.7" cy="160.4" r="1.25" fill="#8000ff"/><circle cx="626.1" cy="177.6" r="1.25" fill="#8000ff"/><circle cx="657.1" cy="153.1" r="1.25" fill="#8000ff"/><circle cx="633.4" cy="144.0" r="1.25" fill="#0064ff"/><circle cx="650.2" cy="179.9" r="1.25" fill="#8000ff"/><circle cx="641.0" cy="188.7" r="1.25" fill="#8000ff"/><circle cx="638.7" cy="162.8" r="1.25" fill="#8000ff"/><circle cx="640.4" cy="181.4" r="1.25" fill="#0064ff"/><circle cx="631.7" cy="188.5" r="1.25" fill="#8000ff"/><circle cx="625.4" cy="166.6" r="1.25" fill="#8000ff"/><circle cx="653.1" cy="195.2" r="1.25" fill="#0064ff"/><circle cx="636.0" cy="144.4" r="1.25" fill="#8000ff"/><circle cx="643.0" cy="174.0" r="1.25" fill="#8000ff"/><circle cx="612.2" cy="146.8" r="1.25" fill="#8000ff"/><circle cx="629.7" cy="195.3" r="1.25" fill="#0064ff"/><circle cx="659.0" cy="178.4" r="1.25" fill="#8000ff"/><circle cx="614.7" cy="145.3" r="1.25" fill="#0064ff"/><circle cx="580.8" cy="217.3" r="1.25" fill="#8000ff"/><circle cx="630.2" cy="146.0" r="1.25" fill="#0064ff"/><circle cx="645.0" cy="156.8" r="1.25" fill="#8000ff"/><circle cx="656.6" cy="204.3" r="1.25" fill="#0064ff"/><circle cx="638.7" cy="141.6" r="1.25" fill="#0064ff"/><circle cx="654.7" cy="225.7" r="1.25" fill="#8000ff"/><circle cx="604.5" cy="169.5" r="1.25" fill="#0064ff"/><circle cx="635.0" cy="152.3" r="1.25" fill="#8000ff"/><circle cx="652.2" cy="151.1" r="1.25" fill="#8000ff"/><circle cx="644.1" cy="152.4" r="1.25" fill="#8000ff"/><circle cx="635.7" cy="213.5" r="1.25" fill="#8000ff"/><circle cx="643.1" cy="145.0" r="1.25" fill="#0064ff"/><circle cx="634.1" cy="167.2" r="1.25" fill="#0064ff"/><circle cx="623.8" cy="220.1" r="1.25" fill="#0064ff"/><circle cx="626.5" cy="196.5" r="1.25" fill="#8000ff"/><circle cx="657.2" cy="192.1" r="1.25" fill="#8000ff"/><circle cx="620.2" cy="143.6" r="1.25" fill="#0064ff"/><circle cx="631.5" cy="170.4" r="1.25" fill="#8000ff"/><circle cx="659.0" cy="170.8" r="1.25" fill="#8000ff"/><circle cx="654.9" cy="155.2" r="1.25" fill="#0064ff"/><circle cx="613.5" cy="188.3" r="1.25" fill="#8000ff"/><circle cx="656.0" cy="147.1" r="1.25" fill="#0064ff"/><circle cx="640.4" cy="140.5" r="1.25" fill="#0064ff"/><circle cx="657.9" cy="144.8" r="1.25" fill="#8000ff"/><circle cx="637.6" cy="181.6" r="1.25" fill="#0064ff"/><circle cx="639.6" cy="171.5" r="1.25" fill="#0064ff"/><circle cx="646.4" cy="158.6" r="1.25" fill="#8000ff"/><circle cx="654.5" cy="150.6" r="1.25" fill="#0064ff"/><circle cx="615.5" cy="153.8" r="1.25" fill="#0064ff"/><circle cx="656.9" cy="176.7" r="1.25" fill="#8000ff"/><circle cx="618.4" cy="165.4" r="1.25" fill="#0064ff"/><circle cx="659.1" cy="153.4" r="1.25" fill="#8000ff"/><circle cx="598.4" cy="153.9" r="1.25" fill="#8000ff"/><circle cx="616.4" cy="178.2" r="1.25" fill="#8000ff"/><circle cx="632.3" cy="167.1" r="1.25" fill="#0064ff"/><circle cx="660.8" cy="181.0" r="1.25" fill="#8000ff"/><circle cx="614.6" cy="186.4" r="1.25" fill="#8000ff"/><circle cx="626.1" cy="171.4" r="1.25" fill="#0064ff"/><circle cx="642.9" cy="148.3" r="1.25" fill="#0064ff"/><circle cx="655.7" cy="170.5" r="1.25" fill="#8000ff"/><circle cx="654.8" cy="170.1" r="1.25" fill="#8000ff"/><circle cx="653.4" cy="164.7" r="1.25" fill="#0064ff"/><circle cx="610.7" cy="183.0" r="1.25" fill="#8000ff"/><circle cx="643.5" cy="146.7" r="1.25" fill="#0064ff"/><circle cx="660.6" cy="224.6" r="1.25" fill="#0064ff"/><circle cx="619.1" cy="149.6" r="1.25" fill="#8000ff"/><circle cx="631.4" cy="150.9" r="1.25" fill="#8000ff"/><circle cx="657.4" cy="153.3" r="1.25" fill="#0064ff"/><circle cx="630.2" cy="139.3" r="1.25" fill="#8000ff"/><circle cx="658.5" cy="165.5" r="1.25" fill="#0064ff"/><circle cx="656.1" cy="177.5" r="1.25" fill="#0064ff"/><circle cx="630.9" cy="149.1" r="1.25" fill="#8000ff"/><circle cx="660.1" cy="186.5" r="1.25" fill="#8000ff"/><circle cx="659.4" cy="147.7" r="1.25" fill="#0064ff"/><circle cx="658.9" cy="163.6" r="1.25" fill="#0064ff"/><circle cx="632.5" cy="171.7" r="1.25" fill="#8000ff"/><circle cx="660.5" cy="187.2" r="1.25" fill="#0064ff"/><circle cx="649.1" cy="152.2" r="1.25" fill="#0064ff"/><circle cx="643.2" cy="169.8" r="1.25" fill="#0064ff"/><circle cx="648.1" cy="192.3" r="1.25" fill="#8000ff"/><circle cx="661.1" cy="199.8" r="1.25" fill="#8000ff"/><circle cx="631.6" cy="198.9" r="1.25" fill="#8000ff"/><circle cx="660.5" cy="193.5" r="1.25" fill="#0064ff"/><circle cx="644.8" cy="184.1" r="1.25" fill="#8000ff"/><circle cx="655.2" cy="160.3" r="1.25" fill="#0064ff"/><circle cx="660.1" cy="163.0" r="1.25" fill="#8000ff"/><circle cx="633.9" cy="186.2" r="1.25" fill="#8000ff"/><circle cx="654.5" cy="153.6" r="1.25" fill="#0064ff"/><circle cx="659.9" cy="153.9" r="1.25" fill="#0064ff"/><circle cx="648.2" cy="191.0" r="1.25" fill="#0064ff"/><circle cx="645.0" cy="137.9" r="1.25" fill="#8000ff"/><circle cx="619.8" cy="173.4" r="1.25" fill="#0064ff"/><circle cx="654.5" cy="164.1" r="1.25" fill="#0064ff"/><circle cx="637.8" cy="188.9" r="1.25" fill="#0064ff"/><circle cx="614.0" cy="147.7" r="1.25" fill="#0064ff"/><circle cx="660.8" cy="187.6" r="1.25" fill="#0064ff"/><circle cx="629.6" cy="151.0" r="1.25" fill="#0064ff"/><circle cx="632.7" cy="163.0" r="1.25" fill="#0064ff"/><circle cx="628.1" cy="157.3" r="1.25" fill="#0064ff"/><circle cx="660.1" cy="170.2" r="1.25" fill="#0064ff"/><circle cx="635.0" cy="147.1" r="1.25" fill="#0064ff"/><circle cx="637.7" cy="150.9" r="1.25" fill="#0064ff"/><circle cx="657.4" cy="143.7" r="1.25" fill="#0064ff"/><circle cx="603.3" cy="150.0" r="1.25" fill="#8000ff"/><circle cx="598.9" cy="151.1" r="1.25" fill="#8000ff"/><circle cx="653.0" cy="173.9" r="1.25" fill="#0064ff"/><circle cx="630.1" cy="151.4" r="1.25" fill="#8000ff"/><circle cx="657.2" cy="207.1" r="1.25" fill="#0064ff"/><circle cx="611.9" cy="161.0" r="1.25" fill="#8000ff"/><circle cx="609.8" cy="155.1" r="1.25" fill="#8000ff"/><circle cx="658.5" cy="165.0" r="1.25" fill="#8000ff"/><circle cx="615.2" cy="159.3" r="1.25" fill="#0064ff"/><circle cx="646.0" cy="178.7" r="1.25" fill="#0064ff"/><circle cx="654.7" cy="162.7" r="1.25" fill="#8000ff"/><circle cx="645.0" cy="168.3" r="1.25" fill="#0064ff"/><circle cx="653.2" cy="151.2" r="1.25" fill="#0064ff"/><circle cx="609.4" cy="177.1" r="1.25" fill="#0064ff"/><circle cx="629.9" cy="157.6" r="1.25" fill="#0064ff"/><circle cx="621.7" cy="157.1" r="1.25" fill="#0064ff"/><circle cx="632.8" cy="154.8" r="1.25" fill="#0064ff"/><circle cx="649.1" cy="152.9" r="1.25" fill="#8000ff"/><circle cx="615.6" cy="168.9" r="1.25" fill="#8000ff"/><circle cx="651.9" cy="173.4" r="1.25" fill="#0064ff"/><circle cx="607.8" cy="190.3" r="1.25" fill="#8000ff"/><circle cx="601.4" cy="188.5" r="1.25" fill="#8000ff"/><circle cx="629.7" cy="170.6" r="1.25" fill="#0064ff"/><circle cx="645.3" cy="162.0" r="1.25" fill="#8000ff"/><circle cx="640.7" cy="183.8" r="1.25" fill="#0064ff"/><circle cx="655.5" cy="149.2" r="1.25" fill="#0064ff"/><circle cx="647.9" cy="136.9" r="1.25" fill="#0064ff"/><circle cx="596.3" cy="179.2" r="1.25" fill="#0064ff"/><circle cx="651.3" cy="175.2" r="1.25" fill="#0064ff"/><circle cx="630.4" cy="183.5" r="1.25" fill="#8000ff"/><circle cx="613.1" cy="154.4" r="1.25" fill="#8000ff"/><circle cx="650.3" cy="144.0" r="1.25" fill="#8000ff"/><circle cx="655.3" cy="178.6" r="1.25" fill="#8000ff"/><circle cx="658.4" cy="191.5" r="1.25" fill="#8000ff"/><circle cx="649.7" cy="181.6" r="1.25" fill="#0064ff"/><circle cx="618.3" cy="162.9" r="1.25" fill="#8000ff"/><circle cx="633.0" cy="160.7" r="1.25" fill="#8000ff"/><circle cx="650.1" cy="175.3" r="1.25" fill="#0064ff"/><circle cx="633.8" cy="162.8" r="1.25" fill="#8000ff"/><circle cx="644.9" cy="143.2" r="1.25" fill="#8000ff"/><circle cx="625.5" cy="157.9" r="1.25" fill="#8000ff"/><circle cx="604.6" cy="151.5" r="1.25" fill="#8000ff"/><circle cx="630.7" cy="172.5" r="1.25" fill="#8000ff"/><circle cx="630.9" cy="154.3" r="1.25" fill="#8000ff"/><circle cx="619.2" cy="153.3" r="1.25" fill="#8000ff"/><circle cx="613.7" cy="149.2" r="1.25" fill="#8000ff"/><circle cx="644.4" cy="163.4" r="1.25" fill="#8000ff"/><circle cx="622.4" cy="171.7" r="1.25" fill="#8000ff"/><circle cx="640.9" cy="182.1" r="1.25" fill="#8000ff"/><circle cx="648.0" cy="140.8" r="1.25" fill="#8000ff"/><circle cx="648.6" cy="174.9" r="1.25" fill="#8000ff"/><circle cx="646.6" cy="195.3" r="1.25" fill="#8000ff"/><circle cx="619.0" cy="161.5" r="1.25" fill="#8000ff"/><circle cx="641.3" cy="154.8" r="1.25" fill="#8000ff"/><circle cx="639.3" cy="194.0" r="1.25" fill="#8000ff"/><circle cx="647.3" cy="138.3" r="1.25" fill="#8000ff"/><circle cx="657.6" cy="141.4" r="1.25" fill="#8000ff"/><circle cx="596.3" cy="145.0" r="1.25" fill="#8000ff"/><circle cx="660.8" cy="153.1" r="1.25" fill="#8000ff"/><circle cx="644.2" cy="164.2" r="1.25" fill="#8000ff"/><circle cx="641.6" cy="167.8" r="1.25" fill="#8000ff"/><circle cx="652.5" cy="191.0" r="1.25" fill="#8000ff"/><circle cx="609.9" cy="164.8" r="1.25" fill="#8000ff"/><circle cx="608.8" cy="156.5" r="1.25" fill="#8000ff"/><circle cx="625.1" cy="175.3" r="1.25" fill="#8000ff"/><circle cx="607.4" cy="186.3" r="1.25" fill="#8000ff"/><circle cx="652.5" cy="160.5" r="1.25" fill="#8000ff"/><circle cx="643.0" cy="198.8" r="1.25" fill="#8000ff"/><circle cx="661.0" cy="191.6" r="1.25" fill="#8000ff"/><circle cx="633.7" cy="164.5" r="1.25" fill="#8000ff"/><circle cx="644.3" cy="166.5" r="1.25" fill="#8000ff"/><circle cx="648.2" cy="154.7" r="1.25" fill="#8000ff"/><circle cx="638.8" cy="140.5" r="1.25" fill="#8000ff"/><circle cx="647.1" cy="169.6" r="1.25" fill="#8000ff"/><circle cx="661.4" cy="167.0" r="1.25" fill="#8000ff"/><circle cx="656.9" cy="169.4" r="1.25" fill="#8000ff"/><circle cx="644.2" cy="153.9" r="1.25" fill="#8000ff"/><circle cx="659.8" cy="187.7" r="1.25" fill="#8000ff"/><circle cx="651.7" cy="146.0" r="1.25" fill="#8000ff"/><circle cx="650.8" cy="174.2" r="1.25" fill="#8000ff"/><circle cx="642.0" cy="154.4" r="1.25" fill="#8000ff"/><circle cx="630.7" cy="148.4" r="1.25" fill="#8000ff"/><circle cx="645.5" cy="147.5" r="1.25" fill="#8000ff"/><circle cx="649.6" cy="137.3" r="1.25" fill="#8000ff"/><circle cx="634.6" cy="188.7" r="1.25" fill="#8000ff"/><circle cx="660.5" cy="172.3" r="1.25" fill="#8000ff"/><circle cx="645.0" cy="175.9" r="1.25" fill="#8000ff"/><circle cx="658.8" cy="149.0" r="1.25" fill="#8000ff"/><circle cx="625.5" cy="157.9" r="1.25" fill="#8000ff"/><circle cx="639.7" cy="146.4" r="1.25" fill="#8000ff"/><circle cx="638.1" cy="175.0" r="1.25" fill="#8000ff"/><circle cx="643.4" cy="189.7" r="1.25" fill="#8000ff"/><circle cx="621.3" cy="152.1" r="1.25" fill="#8000ff"/><circle cx="653.9" cy="153.2" r="1.25" fill="#8000ff"/><circle cx="656.1" cy="185.0" r="1.25" fill="#8000ff"/><circle cx="615.9" cy="168.7" r="1.25" fill="#8000ff"/><circle cx="617.8" cy="200.7" r="1.25" fill="#8000ff"/><circle cx="608.4" cy="169.7" r="1.25" fill="#8000ff"/><circle cx="650.0" cy="148.4" r="1.25" fill="#8000ff"/><circle cx="616.6" cy="160.7" r="1.25" fill="#8000ff"/><circle cx="627.7" cy="155.5" r="1.25" fill="#8000ff"/><circle cx="657.0" cy="191.5" r="1.25" fill="#8000ff"/><circle cx="657.2" cy="166.0" r="1.25" fill="#8000ff"/><circle cx="649.2" cy="162.4" r="1.25" fill="#8000ff"/><circle cx="632.6" cy="147.4" r="1.25" fill="#8000ff"/><circle cx="631.6" cy="148.3" r="1.25" fill="#8000ff"/><circle cx="649.0" cy="144.4" r="1.25" fill="#8000ff"/><circle cx="626.3" cy="182.3" r="1.25" fill="#8000ff"/><circle cx="656.9" cy="167.0" r="1.25" fill="#8000ff"/><circle cx="632.9" cy="148.7" r="1.25" fill="#8000ff"/><circle cx="658.4" cy="206.9" r="1.25" fill="#8000ff"/><circle cx="653.3" cy="140.9" r="1.25" fill="#8000ff"/><circle cx="656.2" cy="160.6" r="1.25" fill="#8000ff"/><circle cx="660.5" cy="151.3" r="1.25" fill="#8000ff"/><circle cx="610.9" cy="188.8" r="1.25" fill="#8000ff"/><circle cx="651.5" cy="170.2" r="1.25" fill="#8000ff"/><circle cx="656.0" cy="180.9" r="1.25" fill="#8000ff"/><circle cx="661.4" cy="182.2" r="1.25" fill="#8000ff"/><circle cx="643.1" cy="165.1" r="1.25" fill="#8000ff"/><circle cx="634.2" cy="166.0" r="1.25" fill="#8000ff"/><circle cx="656.1" cy="147.8" r="1.25" fill="#8000ff"/><circle cx="652.3" cy="171.0" r="1.25" fill="#8000ff"/><circle cx="660.6" cy="154.4" r="1.25" fill="#8000ff"/><circle cx="624.1" cy="165.2" r="1.25" fill="#8000ff"/><circle cx="660.9" cy="165.4" r="1.25" fill="#8000ff"/><circle cx="619.1" cy="160.9" r="1.25" fill="#8000ff"/><circle cx="647.8" cy="182.3" r="1.25" fill="#8000ff"/><circle cx="643.2" cy="168.0" r="1.25" fill="#8000ff"/><circle cx="628.2" cy="192.7" r="1.25" fill="#8000ff"/><circle cx="646.6" cy="144.7" r="1.25" fill="#8000ff"/><circle cx="630.2" cy="151.3" r="1.25" fill="#8000ff"/><circle cx="643.2" cy="151.7" r="1.25" fill="#8000ff"/><circle cx="659.6" cy="171.9" r="1.25" fill="#8000ff"/><circle cx="634.2" cy="164.0" r="1.25" fill="#8000ff"/><circle cx="654.7" cy="164.9" r="1.25" fill="#8000ff"/><circle cx="619.4" cy="165.3" r="1.25" fill="#8000ff"/><circle cx="604.8" cy="148.6" r="1.25" fill="#8000ff"/><circle cx="602.7" cy="204.9" r="1.25" fill="#8000ff"/><circle cx="659.9" cy="155.8" r="1.25" fill="#8000ff"/><circle cx="655.6" cy="150.8" r="1.25" fill="#8000ff"/><circle cx="636.6" cy="178.2" r="1.25" fill="#8000ff"/><circle cx="636.1" cy="174.9" r="1.25" fill="#8000ff"/><circle cx="603.2" cy="232.1" r="1.25" fill="#8000ff"/><circle cx="630.6" cy="165.4" r="1.25" fill="#8000ff"/><circle cx="660.4" cy="155.8" r="1.25" fill="#8000ff"/><circle cx="638.9" cy="163.5" r="1.25" fill="#8000ff"/><circle cx="636.4" cy="150.1" r="1.25" fill="#8000ff"/><circle cx="643.1" cy="159.7" r="1.25" fill="#8000ff"/><circle cx="650.5" cy="155.8" r="1.25" fill="#8000ff"/><circle cx="630.5" cy="189.9" r="1.25" fill="#8000ff"/><circle cx="631.6" cy="166.3" r="1.25" fill="#8000ff"/><circle cx="652.2" cy="161.3" r="1.25" fill="#8000ff"/><circle cx="616.4" cy="152.3" r="1.25" fill="#8000ff"/><circle cx="661.4" cy="138.2" r="1.25" fill="#8000ff"/><circle cx="623.2" cy="143.8" r="1.25" fill="#8000ff"/><circle cx="636.0" cy="148.7" r="1.25" fill="#8000ff"/><circle cx="650.5" cy="182.9" r="1.25" fill="#8000ff"/><circle cx="660.7" cy="193.4" r="1.25" fill="#8000ff"/><circle cx="646.5" cy="182.6" r="1.25" fill="#8000ff"/><circle cx="658.7" cy="149.9" r="1.25" fill="#8000ff"/><circle cx="635.0" cy="154.2" r="1.25" fill="#8000ff"/><circle cx="661.1" cy="169.7" r="1.25" fill="#8000ff"/><circle cx="656.2" cy="179.8" r="1.25" fill="#8000ff"/><circle cx="648.7" cy="179.1" r="1.25" fill="#8000ff"/><circle cx="660.7" cy="157.5" r="1.25" fill="#8000ff"/><circle cx="660.4" cy="144.1" r="1.25" fill="#8000ff"/><circle cx="658.1" cy="177.3" r="1.25" fill="#8000ff"/><circle cx="609.0" cy="157.8" r="1.25" fill="#8000ff"/><circle cx="661.2" cy="182.0" r="1.25" fill="#8000ff"/><circle cx="655.9" cy="203.9" r="1.25" fill="#8000ff"/><circle cx="622.8" cy="182.2" r="1.25" fill="#8000ff"/><circle cx="624.6" cy="152.5" r="1.25" fill="#8000ff"/><circle cx="661.0" cy="210.4" r="1.25" fill="#8000ff"/><circle cx="631.8" cy="189.6" r="1.25" fill="#8000ff"/><circle cx="654.6" cy="147.3" r="1.25" fill="#8000ff"/><circle cx="631.4" cy="143.8" r="1.25" fill="#8000ff"/><circle cx="622.0" cy="197.7" r="1.25" fill="#8000ff"/><circle cx="649.0" cy="189.0" r="1.25" fill="#8000ff"/><circle cx="644.0" cy="188.0" r="1.25" fill="#8000ff"/><circle cx="631.4" cy="163.5" r="1.25" fill="#8000ff"/><circle cx="638.0" cy="153.9" r="1.25" fill="#8000ff"/><circle cx="654.0" cy="181.6" r="1.25" fill="#8000ff"/><circle cx="654.5" cy="145.3" r="1.25" fill="#8000ff"/><circle cx="631.0" cy="171.9" r="1.25" fill="#8000ff"/><circle cx="640.2" cy="156.1" r="1.25" fill="#8000ff"/><circle cx="638.8" cy="178.1" r="1.25" fill="#8000ff"/><circle cx="645.7" cy="173.9" r="1.25" fill="#8000ff"/><circle cx="642.6" cy="206.4" r="1.25" fill="#8000ff"/><circle cx="624.5" cy="160.5" r="1.25" fill="#8000ff"/><circle cx="546.9" cy="207.8" r="1.25" fill="#8000ff"/><circle cx="645.8" cy="150.1" r="1.25" fill="#8000ff"/><circle cx="645.7" cy="174.2" r="1.25" fill="#8000ff"/><circle cx="642.0" cy="150.4" r="1.25" fill="#8000ff"/><circle cx="655.9" cy="180.9" r="1.25" fill="#8000ff"/><circle cx="652.4" cy="168.3" r="1.25" fill="#8000ff"/><circle cx="636.5" cy="141.0" r="1.25" fill="#8000ff"/><circle cx="657.8" cy="153.5" r="1.25" fill="#8000ff"/><circle cx="619.4" cy="168.7" r="1.25" fill="#8000ff"/><circle cx="653.3" cy="141.5" r="1.25" fill="#8000ff"/><circle cx="634.8" cy="153.0" r="1.25" fill="#8000ff"/><circle cx="634.8" cy="150.4" r="1.25" fill="#8000ff"/><circle cx="621.8" cy="190.4" r="1.25" fill="#8000ff"/><circle cx="654.6" cy="142.9" r="1.25" fill="#8000ff"/><circle cx="630.5" cy="208.5" r="1.25" fill="#8000ff"/><circle cx="628.3" cy="204.8" r="1.25" fill="#8000ff"/><circle cx="641.4" cy="150.4" r="1.25" fill="#8000ff"/><circle cx="613.7" cy="165.7" r="1.25" fill="#8000ff"/><circle cx="644.8" cy="148.2" r="1.25" fill="#8000ff"/><circle cx="630.9" cy="178.7" r="1.25" fill="#8000ff"/><circle cx="638.9" cy="172.5" r="1.25" fill="#8000ff"/><circle cx="621.4" cy="184.2" r="1.25" fill="#8000ff"/><circle cx="631.8" cy="166.7" r="1.25" fill="#8000ff"/><circle cx="643.7" cy="167.1" r="1.25" fill="#8000ff"/><circle cx="640.5" cy="193.6" r="1.25" fill="#8000ff"/><circle cx="622.4" cy="155.2" r="1.25" fill="#8000ff"/><circle cx="655.5" cy="193.6" r="1.25" fill="#8000ff"/><circle cx="660.0" cy="155.5" r="1.25" fill="#8000ff"/><circle cx="631.2" cy="181.7" r="1.25" fill="#8000ff"/><circle cx="640.3" cy="169.8" r="1.25" fill="#8000ff"/><circle cx="628.0" cy="151.3" r="1.25" fill="#8000ff"/><circle cx="641.9" cy="182.8" r="1.25" fill="#8000ff"/><circle cx="656.2" cy="201.3" r="1.25" fill="#8000ff"/><circle cx="619.8" cy="167.5" r="1.25" fill="#8000ff"/><circle cx="640.1" cy="148.6" r="1.25" fill="#8000ff"/><circle cx="652.9" cy="169.6" r="1.25" fill="#8000ff"/><circle cx="661.4" cy="167.3" r="1.25" fill="#8000ff"/><circle cx="647.3" cy="188.2" r="1.25" fill="#8000ff"/><circle cx="652.8" cy="178.9" r="1.25" fill="#8000ff"/><circle cx="649.2" cy="168.8" r="1.25" fill="#8000ff"/><circle cx="642.5" cy="145.9" r="1.25" fill="#8000ff"/><circle cx="587.0" cy="197.1" r="1.25" fill="#8000ff"/><circle cx="615.2" cy="166.9" r="1.25" fill="#8000ff"/><circle cx="637.4" cy="178.2" r="1.25" fill="#8000ff"/><circle cx="641.0" cy="147.0" r="1.25" fill="#8000ff"/><circle cx="608.4" cy="157.1" r="1.25" fill="#8000ff"/><circle cx="649.1" cy="155.7" r="1.25" fill="#8000ff"/><circle cx="645.7" cy="150.3" r="1.25" fill="#8000ff"/><circle cx="654.2" cy="160.4" r="1.25" fill="#8000ff"/><circle cx="631.8" cy="180.0" r="1.25" fill="#8000ff"/><circle cx="640.6" cy="158.3" r="1.25" fill="#8000ff"/><circle cx="628.6" cy="187.0" r="1.25" fill="#8000ff"/><circle cx="654.8" cy="152.7" r="1.25" fill="#8000ff"/><circle cx="631.3" cy="162.2" r="1.25" fill="#8000ff"/><circle cx="637.6" cy="175.5" r="1.25" fill="#8000ff"/><circle cx="648.0" cy="165.0" r="1.25" fill="#8000ff"/><circle cx="639.2" cy="173.1" r="1.25" fill="#8000ff"/><circle cx="636.4" cy="167.3" r="1.25" fill="#8000ff"/><circle cx="656.4" cy="154.4" r="1.25" fill="#8000ff"/><circle cx="633.0" cy="140.5" r="1.25" fill="#8000ff"/><circle cx="634.9" cy="159.6" r="1.25" fill="#8000ff"/><circle cx="632.4" cy="169.4" r="1.25" fill="#8000ff"/><circle cx="645.5" cy="142.5" r="1.25" fill="#8000ff"/><circle cx="653.6" cy="151.9" r="1.25" fill="#8000ff"/><circle cx="615.6" cy="163.5" r="1.25" fill="#8000ff"/><circle cx="611.8" cy="168.5" r="1.25" fill="#8000ff"/><circle cx="626.7" cy="145.6" r="1.25" fill="#8000ff"/><circle cx="620.1" cy="150.6" r="1.25" fill="#8000ff"/><circle cx="639.1" cy="162.5" r="1.25" fill="#8000ff"/><circle cx="647.8" cy="194.0" r="1.25" fill="#8000ff"/><circle cx="659.1" cy="153.8" r="1.25" fill="#8000ff"/><circle cx="634.5" cy="149.9" r="1.25" fill="#8000ff"/><circle cx="633.6" cy="162.7" r="1.25" fill="#8000ff"/><circle cx="651.4" cy="162.3" r="1.25" fill="#8000ff"/><circle cx="595.7" cy="150.4" r="1.25" fill="#8000ff"/><circle cx="653.8" cy="186.4" r="1.25" fill="#8000ff"/><circle cx="612.8" cy="174.9" r="1.25" fill="#8000ff"/><circle cx="652.1" cy="143.1" r="1.25" fill="#8000ff"/><circle cx="637.2" cy="144.7" r="1.25" fill="#8000ff"/><circle cx="630.8" cy="177.0" r="1.25" fill="#8000ff"/><circle cx="656.4" cy="170.3" r="1.25" fill="#8000ff"/><circle cx="630.4" cy="142.7" r="1.25" fill="#8000ff"/><circle cx="603.0" cy="175.0" r="1.25" fill="#8000ff"/><circle cx="630.7" cy="164.7" r="1.25" fill="#8000ff"/><circle cx="648.5" cy="204.4" r="1.25" fill="#8000ff"/><circle cx="638.2" cy="155.3" r="1.25" fill="#8000ff"/><circle cx="661.5" cy="174.1" r="1.25" fill="#8000ff"/><circle cx="624.8" cy="175.0" r="1.25" fill="#8000ff"/><circle cx="650.3" cy="155.0" r="1.25" fill="#8000ff"/><circle cx="640.5" cy="167.8" r="1.25" fill="#8000ff"/><circle cx="642.2" cy="142.5" r="1.25" fill="#8000ff"/><circle cx="627.5" cy="168.8" r="1.25" fill="#8000ff"/><circle cx="635.5" cy="141.8" r="1.25" fill="#8000ff"/><circle cx="645.2" cy="154.3" r="1.25" fill="#8000ff"/><circle cx="654.9" cy="157.6" r="1.25" fill="#8000ff"/><circle cx="624.5" cy="163.8" r="1.25" fill="#8000ff"/><circle cx="628.2" cy="166.1" r="1.25" fill="#8000ff"/><circle cx="650.4" cy="165.9" r="1.25" fill="#8000ff"/><circle cx="647.7" cy="177.9" r="1.25" fill="#8000ff"/><circle cx="658.4" cy="190.9" r="1.25" fill="#8000ff"/><circle cx="661.3" cy="192.8" r="1.25" fill="#8000ff"/><circle cx="653.0" cy="195.7" r="1.25" fill="#8000ff"/><circle cx="650.0" cy="179.9" r="1.25" fill="#8000ff"/><circle cx="651.6" cy="184.8" r="1.25" fill="#8000ff"/><circle cx="653.1" cy="161.1" r="1.25" fill="#8000ff"/><circle cx="647.5" cy="148.0" r="1.25" fill="#8000ff"/><circle cx="606.0" cy="219.9" r="1.25" fill="#8000ff"/><circle cx="415.7" cy="212.4" r="1.25" fill="#00ffff"/><circle cx="417.1" cy="219.3" r="1.25" fill="#00ffff"/><circle cx="445.0" cy="182.1" r="1.25" fill="#00ffff"/><circle cx="445.0" cy="185.0" r="1.25" fill="#00ffff"/><circle cx="449.0" cy="192.9" r="1.25" fill="#00ffff"/><circle cx="449.0" cy="200.0" r="1.25" fill="#00ffff"/><circle cx="451.4" cy="206.9" r="1.25" fill="#00ffff"/><circle cx="452.9" cy="217.9" r="1.25" fill="#00ffff"/><circle cx="453.9" cy="223.1" r="1.25" fill="#00ffff"/><circle cx="476.2" cy="176.7" r="1.25" fill="#00ffff"/><circle cx="477.1" cy="175.2" r="1.25" fill="#00ffff"/><circle cx="501.4" cy="157.1" r="1.25" fill="#00ffff"/><circle cx="507.9" cy="157.9" r="1.25" fill="#00ffff"/><circle cx="512.9" cy="158.6" r="1.25" fill="#00ffff"/><circle cx="521.4" cy="162.9" r="1.25" fill="#00ffff"/><circle cx="517.1" cy="163.6" r="1.25" fill="#00ffff"/><circle cx="506.4" cy="162.9" r="1.25" fill="#00ffff"/><circle cx="507.9" cy="165.0" r="1.25" fill="#00ffff"/><circle cx="510.7" cy="163.6" r="1.25" fill="#00ffff"/><circle cx="490.0" cy="164.3" r="1.25" fill="#00ffff"/><circle cx="530.0" cy="165.7" r="1.25" fill="#00ffff"/><circle cx="532.1" cy="165.0" r="1.25" fill="#00ffff"/><circle cx="533.6" cy="167.1" r="1.25" fill="#00ffff"/><circle cx="535.0" cy="168.6" r="1.25" fill="#00ffff"/><circle cx="534.3" cy="170.7" r="1.25" fill="#00ffff"/><circle cx="536.4" cy="165.7" r="1.25" fill="#00ffff"/><circle cx="538.6" cy="166.4" r="1.25" fill="#00ffff"/><circle cx="531.4" cy="170.0" r="1.25" fill="#00ffff"/><circle cx="522.9" cy="168.6" r="1.25" fill="#00ffff"/><circle cx="521.4" cy="172.1" r="1.25" fill="#00ffff"/><circle cx="515.7" cy="170.0" r="1.25" fill="#00ffff"/><circle cx="502.1" cy="168.6" r="1.25" fill="#00ffff"/><circle cx="508.6" cy="173.6" r="1.25" fill="#00ffff"/><circle cx="497.1" cy="172.1" r="1.25" fill="#00ffff"/><circle cx="488.6" cy="170.7" r="1.25" fill="#00ffff"/><circle cx="506.4" cy="190.7" r="1.25" fill="#00ffff"/><circle cx="508.6" cy="187.1" r="1.25" fill="#00ffff"/><circle cx="503.6" cy="195.7" r="1.25" fill="#00ffff"/><circle cx="534.3" cy="196.4" r="1.25" fill="#00ffff"/><circle cx="530.7" cy="196.4" r="1.25" fill="#00ffff"/><circle cx="533.6" cy="191.4" r="1.25" fill="#00ffff"/><circle cx="464.0" cy="206.9" r="1.25" fill="#00ffff"/><circle cx="455.7" cy="223.6" r="1.25" fill="#00ffff"/><circle cx="455.7" cy="230.7" r="1.25" fill="#00ffff"/><circle cx="455.7" cy="234.6" r="1.25" fill="#00ffff"/><circle cx="455.7" cy="238.6" r="1.25" fill="#00ffff"/><circle cx="454.3" cy="242.6" r="1.25" fill="#00ffff"/><circle cx="467.9" cy="190.7" r="1.25" fill="#00ffff"/><circle cx="513.6" cy="196.4" r="1.25" fill="#00ffff"/><circle cx="527.1" cy="200.0" r="1.25" fill="#00ffff"/><circle cx="538.6" cy="190.7" r="1.25" fill="#00ffff"/><circle cx="540.0" cy="204.3" r="1.25" fill="#00ffff"/><circle cx="540.0" cy="207.1" r="1.25" fill="#00ffff"/><circle cx="530.0" cy="205.7" r="1.25" fill="#00ffff"/><circle cx="530.0" cy="212.1" r="1.25" fill="#00ffff"/><circle cx="537.9" cy="212.1" r="1.25" fill="#00ffff"/><circle cx="539.3" cy="210.7" r="1.25" fill="#00ffff"/><circle cx="540.7" cy="216.4" r="1.25" fill="#00ffff"/><circle cx="535.0" cy="217.9" r="1.25" fill="#00ffff"/><circle cx="537.9" cy="217.9" r="1.25" fill="#00ffff"/><circle cx="530.0" cy="227.9" r="1.25" fill="#00ffff"/><circle cx="535.7" cy="230.0" r="1.25" fill="#00ffff"/><circle cx="540.0" cy="231.4" r="1.25" fill="#00ffff"/><circle cx="547.1" cy="214.3" r="1.25" fill="#00ffff"/><circle cx="547.9" cy="210.7" r="1.25" fill="#00ffff"/><circle cx="552.1" cy="208.6" r="1.25" fill="#00ffff"/><circle cx="552.9" cy="192.1" r="1.25" fill="#00ffff"/><circle cx="554.3" cy="191.4" r="1.25" fill="#00ffff"/><circle cx="548.6" cy="224.3" r="1.25" fill="#00ffff"/><circle cx="553.6" cy="223.6" r="1.25" fill="#00ffff"/><circle cx="557.1" cy="230.0" r="1.25" fill="#00ffff"/><circle cx="539.3" cy="246.4" r="1.25" fill="#00ffff"/><circle cx="547.9" cy="246.4" r="1.25" fill="#00ffff"/><circle cx="549.3" cy="247.9" r="1.25" fill="#00ffff"/><circle cx="554.3" cy="192.9" r="1.25" fill="#00ffff"/><circle cx="557.1" cy="150.7" r="1.25" fill="#00ffff"/><circle cx="557.1" cy="153.6" r="1.25" fill="#00ffff"/><circle cx="550.7" cy="154.3" r="1.25" fill="#00ffff"/><circle cx="554.3" cy="154.3" r="1.25" fill="#00ffff"/><circle cx="544.3" cy="157.1" r="1.25" fill="#00ffff"/><circle cx="544.3" cy="161.4" r="1.25" fill="#00ffff"/><circle cx="541.4" cy="162.9" r="1.25" fill="#00ffff"/><circle cx="546.4" cy="162.9" r="1.25" fill="#00ffff"/><circle cx="550.0" cy="160.0" r="1.25" fill="#00ffff"/><circle cx="552.9" cy="158.6" r="1.25" fill="#00ffff"/><circle cx="555.7" cy="157.1" r="1.25" fill="#00ffff"/><circle cx="558.6" cy="156.4" r="1.25" fill="#00ffff"/><circle cx="561.4" cy="155.7" r="1.25" fill="#00ffff"/><circle cx="564.3" cy="153.6" r="1.25" fill="#00ffff"/><circle cx="565.7" cy="155.7" r="1.25" fill="#00ffff"/><circle cx="568.6" cy="158.6" r="1.25" fill="#00ffff"/><circle cx="570.7" cy="159.3" r="1.25" fill="#00ffff"/><circle cx="560.0" cy="159.3" r="1.25" fill="#00ffff"/><circle cx="562.9" cy="160.7" r="1.25" fill="#00ffff"/><circle cx="565.0" cy="162.9" r="1.25" fill="#00ffff"/><circle cx="567.9" cy="161.4" r="1.25" fill="#00ffff"/><circle cx="571.4" cy="161.4" r="1.25" fill="#00ffff"/><circle cx="572.9" cy="162.9" r="1.25" fill="#00ffff"/><circle cx="577.1" cy="160.7" r="1.25" fill="#00ffff"/><circle cx="580.0" cy="158.6" r="1.25" fill="#00ffff"/><circle cx="581.4" cy="157.1" r="1.25" fill="#00ffff"/><circle cx="582.9" cy="155.7" r="1.25" fill="#00ffff"/><circle cx="584.3" cy="154.3" r="1.25" fill="#00ffff"/><circle cx="585.7" cy="152.9" r="1.25" fill="#00ffff"/><circle cx="588.6" cy="148.6" r="1.25" fill="#00ffff"/><circle cx="590.7" cy="147.9" r="1.25" fill="#00ffff"/><circle cx="592.9" cy="149.3" r="1.25" fill="#00ffff"/><circle cx="594.3" cy="152.1" r="1.25" fill="#00ffff"/><circle cx="596.4" cy="154.3" r="1.25" fill="#00ffff"/><circle cx="589.3" cy="152.9" r="1.25" fill="#00ffff"/><circle cx="587.9" cy="157.1" r="1.25" fill="#00ffff"/><circle cx="585.7" cy="160.0" r="1.25" fill="#00ffff"/><circle cx="582.9" cy="162.9" r="1.25" fill="#00ffff"/><circle cx="580.0" cy="164.3" r="1.25" fill="#00ffff"/><circle cx="576.4" cy="165.7" r="1.25" fill="#00ffff"/><circle cx="572.9" cy="165.7" r="1.25" fill="#00ffff"/><circle cx="568.6" cy="167.1" r="1.25" fill="#00ffff"/><circle cx="562.9" cy="167.1" r="1.25" fill="#00ffff"/><circle cx="560.0" cy="169.3" r="1.25" fill="#00ffff"/><circle cx="557.1" cy="170.0" r="1.25" fill="#00ffff"/><circle cx="554.3" cy="171.4" r="1.25" fill="#00ffff"/><circle cx="548.6" cy="171.4" r="1.25" fill="#00ffff"/><circle cx="547.1" cy="165.7" r="1.25" fill="#00ffff"/><circle cx="541.4" cy="167.1" r="1.25" fill="#00ffff"/><circle cx="540.0" cy="160.0" r="1.25" fill="#00ffff"/><circle cx="582.9" cy="167.1" r="1.25" fill="#00ffff"/><circle cx="587.1" cy="169.3" r="1.25" fill="#00ffff"/><circle cx="562.9" cy="172.9" r="1.25" fill="#00ffff"/><circle cx="558.6" cy="176.4" r="1.25" fill="#00ffff"/><circle cx="561.4" cy="178.6" r="1.25" fill="#00ffff"/><circle cx="557.1" cy="177.9" r="1.25" fill="#00ffff"/><circle cx="589.3" cy="174.3" r="1.25" fill="#00ffff"/><circle cx="591.4" cy="176.4" r="1.25" fill="#00ffff"/><circle cx="601.9" cy="244.0" r="1.25" fill="#00ffff"/><circle cx="609.5" cy="227.9" r="1.25" fill="#00ffff"/><circle cx="611.4" cy="239.3" r="1.25" fill="#00ffff"/><circle cx="611.4" cy="243.1" r="1.25" fill="#00ffff"/><circle cx="615.2" cy="237.4" r="1.25" fill="#00ffff"/><circle cx="623.8" cy="244.0" r="1.25" fill="#00ffff"/><circle cx="624.7" cy="235.5" r="1.25" fill="#00ffff"/><circle cx="627.6" cy="236.4" r="1.25" fill="#00ffff"/><circle cx="636.1" cy="236.4" r="1.25" fill="#00ffff"/><circle cx="639.9" cy="237.4" r="1.25" fill="#00ffff"/><circle cx="651.4" cy="237.4" r="1.25" fill="#00ffff"/><circle cx="657.1" cy="238.3" r="1.25" fill="#00ffff"/><circle cx="640.9" cy="254.5" r="1.25" fill="#00ffff"/><circle cx="642.8" cy="259.2" r="1.25" fill="#00ffff"/><circle cx="639.9" cy="260.8" r="1.25" fill="#00ffff"/><circle cx="641.5" cy="268.8" r="1.25" fill="#00ffff"/><circle cx="624.7" cy="275.4" r="1.25" fill="#00ffff"/><circle cx="659.0" cy="261.5" r="1.25" fill="#00ffff"/><circle cx="619.0" cy="229.8" r="1.25" fill="#00ffff"/><circle cx="622.8" cy="232.6" r="1.25" fill="#00ffff"/><circle cx="540.0" cy="180.7" r="1.25" fill="#00ffff"/><circle cx="540.0" cy="208.6" r="1.25" fill="#00ffff"/><circle cx="540.0" cy="215.0" r="1.25" fill="#00ffff"/><circle cx="543.6" cy="215.0" r="1.25" fill="#00ffff"/><circle cx="546.4" cy="216.4" r="1.25" fill="#00ffff"/><circle cx="549.3" cy="189.3" r="1.25" fill="#00ffff"/><circle cx="552.1" cy="190.7" r="1.25" fill="#00ffff"/><circle cx="556.4" cy="185.7" r="1.25" fill="#00ffff"/><circle cx="557.9" cy="188.6" r="1.25" fill="#00ffff"/><circle cx="558.6" cy="177.9" r="1.25" fill="#00ffff"/><circle cx="562.1" cy="180.7" r="1.25" fill="#00ffff"/><circle cx="565.0" cy="181.4" r="1.25" fill="#00ffff"/><circle cx="570.0" cy="186.4" r="1.25" fill="#00ffff"/><circle cx="574.3" cy="182.9" r="1.25" fill="#00ffff"/><circle cx="577.1" cy="182.9" r="1.25" fill="#00ffff"/><circle cx="572.9" cy="196.4" r="1.25" fill="#00ffff"/><circle cx="575.0" cy="195.0" r="1.25" fill="#00ffff"/><circle cx="573.6" cy="189.3" r="1.25" fill="#00ffff"/><circle cx="578.6" cy="189.3" r="1.25" fill="#00ffff"/><circle cx="581.4" cy="188.6" r="1.25" fill="#00ffff"/><circle cx="582.9" cy="193.6" r="1.25" fill="#00ffff"/><circle cx="584.3" cy="195.0" r="1.25" fill="#00ffff"/><circle cx="585.7" cy="192.1" r="1.25" fill="#00ffff"/><circle cx="587.1" cy="196.4" r="1.25" fill="#00ffff"/><circle cx="588.6" cy="197.9" r="1.25" fill="#00ffff"/><circle cx="590.0" cy="200.0" r="1.25" fill="#00ffff"/><circle cx="589.3" cy="204.3" r="1.25" fill="#00ffff"/><circle cx="590.7" cy="205.7" r="1.25" fill="#00ffff"/><circle cx="592.1" cy="204.3" r="1.25" fill="#00ffff"/><circle cx="594.3" cy="205.7" r="1.25" fill="#00ffff"/><circle cx="581.4" cy="203.6" r="1.25" fill="#00ffff"/><circle cx="582.9" cy="205.7" r="1.25" fill="#00ffff"/><circle cx="578.6" cy="208.6" r="1.25" fill="#00ffff"/><circle cx="577.9" cy="212.1" r="1.25" fill="#00ffff"/><circle cx="572.9" cy="210.7" r="1.25" fill="#00ffff"/><circle cx="575.7" cy="204.3" r="1.25" fill="#00ffff"/><circle cx="571.4" cy="202.9" r="1.25" fill="#00ffff"/><circle cx="565.7" cy="202.9" r="1.25" fill="#00ffff"/><circle cx="562.9" cy="203.6" r="1.25" fill="#00ffff"/><circle cx="560.7" cy="209.3" r="1.25" fill="#00ffff"/><circle cx="552.1" cy="220.7" r="1.25" fill="#00ffff"/><circle cx="555.7" cy="220.0" r="1.25" fill="#00ffff"/><circle cx="554.3" cy="225.7" r="1.25" fill="#00ffff"/><circle cx="552.1" cy="217.9" r="1.25" fill="#00ffff"/><circle cx="582.9" cy="226.4" r="1.25" fill="#00ffff"/><circle cx="585.7" cy="224.3" r="1.25" fill="#00ffff"/><circle cx="588.6" cy="223.6" r="1.25" fill="#00ffff"/><circle cx="592.9" cy="222.9" r="1.25" fill="#00ffff"/><circle cx="596.4" cy="225.0" r="1.25" fill="#00ffff"/><circle cx="597.9" cy="227.1" r="1.25" fill="#00ffff"/><circle cx="586.4" cy="230.0" r="1.25" fill="#00ffff"/><circle cx="585.7" cy="233.6" r="1.25" fill="#00ffff"/><circle cx="597.9" cy="209.3" r="1.25" fill="#00ffff"/><circle cx="598.6" cy="203.6" r="1.25" fill="#00ffff"/><circle cx="598.6" cy="198.6" r="1.25" fill="#00ffff"/><circle cx="597.1" cy="201.4" r="1.25" fill="#00ffff"/><circle cx="595.7" cy="193.6" r="1.25" fill="#00ffff"/><circle cx="594.3" cy="190.0" r="1.25" fill="#00ffff"/><circle cx="591.4" cy="189.3" r="1.25" fill="#00ffff"/><circle cx="582.9" cy="180.7" r="1.25" fill="#00ffff"/><circle cx="585.0" cy="183.6" r="1.25" fill="#00ffff"/><circle cx="587.1" cy="181.4" r="1.25" fill="#00ffff"/><circle cx="589.3" cy="177.1" r="1.25" fill="#00ffff"/><circle cx="593.6" cy="182.1" r="1.25" fill="#00ffff"/><circle cx="596.4" cy="185.0" r="1.25" fill="#00ffff"/><circle cx="592.9" cy="212.1" r="1.25" fill="#00ffff"/><circle cx="585.7" cy="215.7" r="1.25" fill="#00ffff"/><circle cx="567.9" cy="233.6" r="1.25" fill="#00ffff"/><circle cx="582.9" cy="233.6" r="1.25" fill="#00ffff"/><circle cx="547.9" cy="187.1" r="1.25" fill="#00ffff"/><circle cx="579.3" cy="244.0" r="1.25" fill="#00ffff"/><circle cx="581.4" cy="244.0" r="1.25" fill="#00ffff"/><circle cx="585.0" cy="242.9" r="1.25" fill="#00ffff"/><circle cx="590.7" cy="241.1" r="1.25" fill="#00ffff"/><circle cx="586.4" cy="248.1" r="1.25" fill="#00ffff"/><circle cx="583.6" cy="260.4" r="1.25" fill="#00ffff"/><circle cx="583.6" cy="271.4" r="1.25" fill="#00ffff"/><circle cx="598.6" cy="237.1" r="1.25" fill="#00ffff"/><circle cx="461.1" cy="252.1" r="1.25" fill="#00ffff"/><circle cx="461.1" cy="256.4" r="1.25" fill="#00ffff"/><circle cx="455.7" cy="264.6" r="1.25" fill="#00ffff"/><circle cx="460.0" cy="278.3" r="1.25" fill="#00ffff"/><circle cx="420.0" cy="235.0" r="1.25" fill="#00ffff"/><circle cx="421.1" cy="241.1" r="1.25" fill="#00ffff"/><circle cx="605.3" cy="199.4" r="1.25" fill="#00ffff"/><circle cx="611.1" cy="196.5" r="1.25" fill="#00ffff"/><circle cx="615.5" cy="206.7" r="1.25" fill="#00ffff"/><circle cx="621.3" cy="205.9" r="1.25" fill="#00ffff"/><circle cx="625.7" cy="199.4" r="1.25" fill="#00ffff"/><circle cx="633.0" cy="202.3" r="1.25" fill="#00ffff"/><circle cx="638.8" cy="200.8" r="1.25" fill="#00ffff"/><circle cx="644.7" cy="199.4" r="1.25" fill="#00ffff"/><circle cx="650.5" cy="203.8" r="1.25" fill="#00ffff"/><circle cx="656.4" cy="208.1" r="1.25" fill="#00ffff"/><circle cx="635.9" cy="209.6" r="1.25" fill="#00ffff"/><circle cx="622.8" cy="214.7" r="1.25" fill="#00ffff"/><circle cx="605.3" cy="214.0" r="1.25" fill="#00ffff"/><circle cx="612.6" cy="214.0" r="1.25" fill="#00ffff"/><circle cx="601.6" cy="200.8" r="1.25" fill="#00ffff"/><circle cx="603.8" cy="208.9" r="1.25" fill="#00ffff"/><circle cx="606.7" cy="203.8" r="1.25" fill="#00ffff"/><circle cx="609.6" cy="209.6" r="1.25" fill="#00ffff"/><circle cx="612.6" cy="211.1" r="1.25" fill="#00ffff"/><circle cx="615.5" cy="209.6" r="1.25" fill="#00ffff"/><circle cx="618.4" cy="215.4" r="1.25" fill="#00ffff"/><circle cx="619.9" cy="218.4" r="1.25" fill="#00ffff"/><circle cx="622.8" cy="212.5" r="1.25" fill="#00ffff"/><circle cx="625.7" cy="215.4" r="1.25" fill="#00ffff"/><circle cx="628.6" cy="216.9" r="1.25" fill="#00ffff"/><circle cx="631.5" cy="219.8" r="1.25" fill="#00ffff"/><circle cx="634.5" cy="222.7" r="1.25" fill="#00ffff"/><circle cx="637.4" cy="214.0" r="1.25" fill="#00ffff"/><circle cx="641.0" cy="215.4" r="1.25" fill="#00ffff"/><circle cx="643.9" cy="216.9" r="1.25" fill="#00ffff"/><circle cx="650.5" cy="212.5" r="1.25" fill="#00ffff"/><circle cx="653.4" cy="214.0" r="1.25" fill="#00ffff"/><circle cx="656.4" cy="215.4" r="1.25" fill="#00ffff"/><circle cx="659.3" cy="216.9" r="1.25" fill="#00ffff"/><circle cx="603.8" cy="222.7" r="1.25" fill="#00ffff"/><circle cx="606.7" cy="220.5" r="1.25" fill="#00ffff"/><circle cx="609.6" cy="226.4" r="1.25" fill="#00ffff"/><circle cx="611.1" cy="227.8" r="1.25" fill="#00ffff"/><circle cx="615.5" cy="222.7" r="1.25" fill="#00ffff"/><circle cx="618.4" cy="225.7" r="1.25" fill="#00ffff"/><circle cx="622.8" cy="231.5" r="1.25" fill="#00ffff"/><circle cx="627.2" cy="229.3" r="1.25" fill="#00ffff"/><circle cx="637.4" cy="228.6" r="1.25" fill="#00ffff"/><circle cx="647.6" cy="231.5" r="1.25" fill="#00ffff"/><circle cx="653.4" cy="224.2" r="1.25" fill="#00ffff"/><circle cx="656.4" cy="225.7" r="1.25" fill="#00ffff"/><circle cx="659.3" cy="209.6" r="1.25" fill="#00ffff"/><circle cx="533.6" cy="169.3" r="1.25" fill="#00ffff"/><circle cx="538.6" cy="169.3" r="1.25" fill="#00ffff"/><circle cx="542.9" cy="161.4" r="1.25" fill="#00ffff"/><circle cx="542.9" cy="167.1" r="1.25" fill="#00ffff"/><circle cx="550.7" cy="157.9" r="1.25" fill="#00ffff"/><circle cx="551.4" cy="161.4" r="1.25" fill="#00ffff"/><circle cx="554.3" cy="158.6" r="1.25" fill="#00ffff"/><circle cx="558.6" cy="162.9" r="1.25" fill="#00ffff"/><circle cx="415.7" cy="205.4" r="1.25" fill="#0064ff"/><circle cx="479.0" cy="170.5" r="1.25" fill="#0064ff"/><circle cx="493.6" cy="175.7" r="1.25" fill="#0064ff"/><circle cx="494.3" cy="177.1" r="1.25" fill="#0064ff"/><circle cx="497.1" cy="177.9" r="1.25" fill="#0064ff"/><circle cx="502.9" cy="181.4" r="1.25" fill="#0064ff"/><circle cx="504.3" cy="182.9" r="1.25" fill="#0064ff"/><circle cx="505.0" cy="184.3" r="1.25" fill="#0064ff"/><circle cx="506.4" cy="188.6" r="1.25" fill="#0064ff"/><circle cx="508.6" cy="191.4" r="1.25" fill="#0064ff"/><circle cx="509.3" cy="194.3" r="1.25" fill="#0064ff"/><circle cx="510.7" cy="195.7" r="1.25" fill="#0064ff"/><circle cx="512.1" cy="195.7" r="1.25" fill="#0064ff"/><circle cx="513.6" cy="196.4" r="1.25" fill="#0064ff"/><circle cx="527.1" cy="188.6" r="1.25" fill="#0064ff"/><circle cx="528.6" cy="190.0" r="1.25" fill="#0064ff"/><circle cx="527.1" cy="194.3" r="1.25" fill="#0064ff"/><circle cx="527.9" cy="196.4" r="1.25" fill="#0064ff"/><circle cx="530.0" cy="182.9" r="1.25" fill="#0064ff"/><circle cx="531.4" cy="181.4" r="1.25" fill="#0064ff"/><circle cx="533.6" cy="180.7" r="1.25" fill="#0064ff"/><circle cx="535.7" cy="180.0" r="1.25" fill="#0064ff"/><circle cx="537.9" cy="181.4" r="1.25" fill="#0064ff"/><circle cx="539.3" cy="182.9" r="1.25" fill="#0064ff"/><circle cx="536.4" cy="184.3" r="1.25" fill="#0064ff"/><circle cx="529.3" cy="184.3" r="1.25" fill="#0064ff"/><circle cx="485.0" cy="172.1" r="1.25" fill="#0064ff"/><circle cx="511.4" cy="198.6" r="1.25" fill="#0064ff"/><circle cx="512.9" cy="200.0" r="1.25" fill="#0064ff"/><circle cx="513.6" cy="207.1" r="1.25" fill="#0064ff"/><circle cx="515.0" cy="208.6" r="1.25" fill="#0064ff"/><circle cx="514.3" cy="213.6" r="1.25" fill="#0064ff"/><circle cx="516.4" cy="217.9" r="1.25" fill="#0064ff"/><circle cx="522.9" cy="208.6" r="1.25" fill="#0064ff"/><circle cx="522.9" cy="212.1" r="1.25" fill="#0064ff"/><circle cx="522.9" cy="216.4" r="1.25" fill="#0064ff"/><circle cx="523.1" cy="217.9" r="1.25" fill="#0064ff"/><circle cx="524.3" cy="203.6" r="1.25" fill="#0064ff"/><circle cx="525.0" cy="201.4" r="1.25" fill="#0064ff"/><circle cx="525.7" cy="199.3" r="1.25" fill="#0064ff"/><circle cx="527.9" cy="192.1" r="1.25" fill="#0064ff"/><circle cx="519.3" cy="234.3" r="1.25" fill="#0064ff"/><circle cx="520.7" cy="238.6" r="1.25" fill="#0064ff"/><circle cx="516.4" cy="242.9" r="1.25" fill="#0064ff"/><circle cx="522.9" cy="225.0" r="1.25" fill="#0064ff"/><circle cx="550.0" cy="191.4" r="1.25" fill="#0064ff"/><circle cx="551.4" cy="193.6" r="1.25" fill="#0064ff"/><circle cx="572.9" cy="150.7" r="1.25" fill="#0064ff"/><circle cx="578.6" cy="150.0" r="1.25" fill="#0064ff"/><circle cx="582.1" cy="153.6" r="1.25" fill="#0064ff"/><circle cx="587.1" cy="154.3" r="1.25" fill="#0064ff"/><circle cx="589.3" cy="155.7" r="1.25" fill="#0064ff"/><circle cx="590.0" cy="150.7" r="1.25" fill="#0064ff"/><circle cx="593.6" cy="150.7" r="1.25" fill="#0064ff"/><circle cx="594.3" cy="153.6" r="1.25" fill="#0064ff"/><circle cx="595.0" cy="156.4" r="1.25" fill="#0064ff"/><circle cx="597.1" cy="157.9" r="1.25" fill="#0064ff"/><circle cx="592.1" cy="159.3" r="1.25" fill="#0064ff"/><circle cx="589.3" cy="160.7" r="1.25" fill="#0064ff"/><circle cx="582.9" cy="159.3" r="1.25" fill="#0064ff"/><circle cx="580.0" cy="161.4" r="1.25" fill="#0064ff"/><circle cx="575.7" cy="161.4" r="1.25" fill="#0064ff"/><circle cx="570.7" cy="156.4" r="1.25" fill="#0064ff"/><circle cx="567.9" cy="155.0" r="1.25" fill="#0064ff"/><circle cx="565.7" cy="158.6" r="1.25" fill="#0064ff"/><circle cx="560.0" cy="161.4" r="1.25" fill="#0064ff"/><circle cx="555.7" cy="162.1" r="1.25" fill="#0064ff"/><circle cx="552.9" cy="162.9" r="1.25" fill="#0064ff"/><circle cx="548.6" cy="164.3" r="1.25" fill="#0064ff"/><circle cx="545.7" cy="166.4" r="1.25" fill="#0064ff"/><circle cx="561.4" cy="164.3" r="1.25" fill="#0064ff"/><circle cx="567.1" cy="165.7" r="1.25" fill="#0064ff"/><circle cx="571.4" cy="167.1" r="1.25" fill="#0064ff"/><circle cx="578.6" cy="165.7" r="1.25" fill="#0064ff"/><circle cx="584.3" cy="165.7" r="1.25" fill="#0064ff"/><circle cx="591.4" cy="168.6" r="1.25" fill="#0064ff"/><circle cx="595.7" cy="169.3" r="1.25" fill="#0064ff"/><circle cx="598.6" cy="167.1" r="1.25" fill="#0064ff"/><circle cx="581.4" cy="170.0" r="1.25" fill="#0064ff"/><circle cx="565.7" cy="176.4" r="1.25" fill="#0064ff"/><circle cx="554.3" cy="174.3" r="1.25" fill="#0064ff"/><circle cx="597.1" cy="173.6" r="1.25" fill="#0064ff"/><circle cx="595.7" cy="171.4" r="1.25" fill="#0064ff"/><circle cx="599.3" cy="175.7" r="1.25" fill="#0064ff"/><circle cx="612.4" cy="228.8" r="1.25" fill="#0064ff"/><circle cx="623.8" cy="227.9" r="1.25" fill="#0064ff"/><circle cx="628.5" cy="232.6" r="1.25" fill="#0064ff"/><circle cx="631.4" cy="229.8" r="1.25" fill="#0064ff"/><circle cx="629.5" cy="245.0" r="1.25" fill="#0064ff"/><circle cx="645.7" cy="226.9" r="1.25" fill="#0064ff"/><circle cx="652.3" cy="243.1" r="1.25" fill="#0064ff"/><circle cx="654.2" cy="239.3" r="1.25" fill="#0064ff"/><circle cx="656.1" cy="237.4" r="1.25" fill="#0064ff"/><circle cx="657.1" cy="234.5" r="1.25" fill="#0064ff"/><circle cx="644.7" cy="255.8" r="1.25" fill="#0064ff"/><circle cx="618.1" cy="263.0" r="1.25" fill="#0064ff"/><circle cx="546.4" cy="184.3" r="1.25" fill="#0064ff"/><circle cx="549.3" cy="185.0" r="1.25" fill="#0064ff"/><circle cx="552.1" cy="187.1" r="1.25" fill="#0064ff"/><circle cx="554.3" cy="185.7" r="1.25" fill="#0064ff"/><circle cx="555.0" cy="182.9" r="1.25" fill="#0064ff"/><circle cx="557.1" cy="180.7" r="1.25" fill="#0064ff"/><circle cx="561.4" cy="175.7" r="1.25" fill="#0064ff"/><circle cx="567.1" cy="177.1" r="1.25" fill="#0064ff"/><circle cx="570.0" cy="175.7" r="1.25" fill="#0064ff"/><circle cx="580.7" cy="179.3" r="1.25" fill="#0064ff"/><circle cx="582.1" cy="185.7" r="1.25" fill="#0064ff"/><circle cx="582.9" cy="192.1" r="1.25" fill="#0064ff"/><circle cx="584.3" cy="193.6" r="1.25" fill="#0064ff"/><circle cx="585.7" cy="178.6" r="1.25" fill="#0064ff"/><circle cx="590.0" cy="180.7" r="1.25" fill="#0064ff"/><circle cx="590.0" cy="192.9" r="1.25" fill="#0064ff"/><circle cx="590.7" cy="183.6" r="1.25" fill="#0064ff"/><circle cx="591.4" cy="196.4" r="1.25" fill="#0064ff"/><circle cx="554.3" cy="193.6" r="1.25" fill="#0064ff"/><circle cx="594.3" cy="195.7" r="1.25" fill="#0064ff"/><circle cx="595.7" cy="202.9" r="1.25" fill="#0064ff"/><circle cx="597.1" cy="190.7" r="1.25" fill="#0064ff"/><circle cx="568.6" cy="189.3" r="1.25" fill="#0064ff"/><circle cx="567.1" cy="190.7" r="1.25" fill="#0064ff"/><circle cx="575.0" cy="198.6" r="1.25" fill="#0064ff"/><circle cx="555.0" cy="215.0" r="1.25" fill="#0064ff"/><circle cx="542.9" cy="216.4" r="1.25" fill="#0064ff"/><circle cx="547.9" cy="220.7" r="1.25" fill="#0064ff"/><circle cx="577.1" cy="177.9" r="1.25" fill="#0064ff"/><circle cx="577.9" cy="176.4" r="1.25" fill="#0064ff"/><circle cx="586.4" cy="190.0" r="1.25" fill="#0064ff"/><circle cx="587.9" cy="188.6" r="1.25" fill="#0064ff"/><circle cx="592.1" cy="234.3" r="1.25" fill="#0064ff"/><circle cx="598.6" cy="231.4" r="1.25" fill="#0064ff"/><circle cx="597.6" cy="276.9" r="1.25" fill="#0064ff"/><circle cx="421.4" cy="235.7" r="1.25" fill="#0064ff"/><circle cx="603.8" cy="197.9" r="1.25" fill="#0064ff"/><circle cx="606.7" cy="200.8" r="1.25" fill="#0064ff"/><circle cx="609.6" cy="197.9" r="1.25" fill="#0064ff"/><circle cx="612.6" cy="200.8" r="1.25" fill="#0064ff"/><circle cx="615.5" cy="199.4" r="1.25" fill="#0064ff"/><circle cx="619.9" cy="197.9" r="1.25" fill="#0064ff"/><circle cx="622.8" cy="202.3" r="1.25" fill="#0064ff"/><circle cx="627.2" cy="200.8" r="1.25" fill="#0064ff"/><circle cx="628.6" cy="205.2" r="1.25" fill="#0064ff"/><circle cx="633.0" cy="206.7" r="1.25" fill="#0064ff"/><circle cx="635.9" cy="205.9" r="1.25" fill="#0064ff"/><circle cx="638.8" cy="208.1" r="1.25" fill="#0064ff"/><circle cx="641.8" cy="209.6" r="1.25" fill="#0064ff"/><circle cx="644.7" cy="208.1" r="1.25" fill="#0064ff"/><circle cx="647.6" cy="212.5" r="1.25" fill="#0064ff"/><circle cx="650.5" cy="209.6" r="1.25" fill="#0064ff"/><circle cx="653.4" cy="211.1" r="1.25" fill="#0064ff"/><circle cx="656.4" cy="212.5" r="1.25" fill="#0064ff"/><circle cx="659.3" cy="214.0" r="1.25" fill="#0064ff"/><circle cx="600.9" cy="227.1" r="1.25" fill="#0064ff"/><circle cx="603.8" cy="225.7" r="1.25" fill="#0064ff"/><circle cx="608.2" cy="228.6" r="1.25" fill="#0064ff"/><circle cx="599.4" cy="233.7" r="1.25" fill="#0064ff"/><circle cx="630.1" cy="222.7" r="1.25" fill="#0064ff"/><circle cx="633.0" cy="224.2" r="1.25" fill="#0064ff"/><circle cx="635.9" cy="225.7" r="1.25" fill="#0064ff"/><circle cx="641.8" cy="225.7" r="1.25" fill="#0064ff"/><circle cx="644.7" cy="222.7" r="1.25" fill="#0064ff"/><circle cx="647.6" cy="225.7" r="1.25" fill="#0064ff"/><circle cx="656.4" cy="221.3" r="1.25" fill="#0064ff"/><circle cx="659.3" cy="224.2" r="1.25" fill="#0064ff"/><circle cx="630.1" cy="234.4" r="1.25" fill="#0064ff"/><circle cx="650.5" cy="218.4" r="1.25" fill="#0064ff"/><circle cx="544.3" cy="170.0" r="1.25" fill="#0064ff"/><circle cx="541.4" cy="174.3" r="1.25" fill="#0064ff"/><circle cx="551.4" cy="167.1" r="1.25" fill="#0064ff"/><circle cx="555.0" cy="164.3" r="1.25" fill="#0064ff"/><circle cx="414.7" cy="199.0" r="1.25" fill="#8000ff"/><circle cx="418.6" cy="219.3" r="1.25" fill="#8000ff"/><circle cx="461.9" cy="165.2" r="1.25" fill="#8000ff"/><circle cx="489.3" cy="170.7" r="1.25" fill="#8000ff"/><circle cx="498.6" cy="169.3" r="1.25" fill="#8000ff"/><circle cx="500.7" cy="168.6" r="1.25" fill="#8000ff"/><circle cx="502.9" cy="169.3" r="1.25" fill="#8000ff"/><circle cx="505.0" cy="170.0" r="1.25" fill="#8000ff"/><circle cx="508.6" cy="170.7" r="1.25" fill="#8000ff"/><circle cx="520.0" cy="174.3" r="1.25" fill="#8000ff"/><circle cx="521.4" cy="173.6" r="1.25" fill="#8000ff"/><circle cx="522.9" cy="175.7" r="1.25" fill="#8000ff"/><circle cx="535.0" cy="182.1" r="1.25" fill="#8000ff"/><circle cx="536.4" cy="181.4" r="1.25" fill="#8000ff"/><circle cx="542.9" cy="192.1" r="1.25" fill="#8000ff"/><circle cx="546.4" cy="195.0" r="1.25" fill="#8000ff"/><circle cx="544.3" cy="197.1" r="1.25" fill="#8000ff"/><circle cx="547.1" cy="198.6" r="1.25" fill="#8000ff"/><circle cx="547.9" cy="212.1" r="1.25" fill="#8000ff"/><circle cx="557.1" cy="214.3" r="1.25" fill="#8000ff"/><circle cx="547.9" cy="223.6" r="1.25" fill="#8000ff"/><circle cx="554.3" cy="225.7" r="1.25" fill="#8000ff"/><circle cx="557.9" cy="223.6" r="1.25" fill="#8000ff"/><circle cx="552.1" cy="235.7" r="1.25" fill="#8000ff"/><circle cx="552.1" cy="240.7" r="1.25" fill="#8000ff"/><circle cx="544.3" cy="190.7" r="1.25" fill="#8000ff"/><circle cx="595.7" cy="162.1" r="1.25" fill="#8000ff"/><circle cx="597.9" cy="162.9" r="1.25" fill="#8000ff"/><circle cx="593.6" cy="164.3" r="1.25" fill="#8000ff"/><circle cx="598.6" cy="155.7" r="1.25" fill="#8000ff"/><circle cx="592.9" cy="167.1" r="1.25" fill="#8000ff"/><circle cx="596.4" cy="175.7" r="1.25" fill="#8000ff"/><circle cx="598.6" cy="178.6" r="1.25" fill="#8000ff"/><circle cx="572.9" cy="178.6" r="1.25" fill="#8000ff"/><circle cx="575.7" cy="177.9" r="1.25" fill="#8000ff"/><circle cx="571.4" cy="177.1" r="1.25" fill="#8000ff"/><circle cx="577.9" cy="179.3" r="1.25" fill="#8000ff"/><circle cx="623.8" cy="232.6" r="1.25" fill="#8000ff"/><circle cx="646.6" cy="245.0" r="1.25" fill="#8000ff"/><circle cx="649.5" cy="226.0" r="1.25" fill="#8000ff"/><circle cx="657.1" cy="241.2" r="1.25" fill="#8000ff"/><circle cx="658.0" cy="235.5" r="1.25" fill="#8000ff"/><circle cx="561.4" cy="193.6" r="1.25" fill="#8000ff"/><circle cx="562.9" cy="190.7" r="1.25" fill="#8000ff"/><circle cx="564.3" cy="187.9" r="1.25" fill="#8000ff"/><circle cx="565.7" cy="185.7" r="1.25" fill="#8000ff"/><circle cx="567.1" cy="182.9" r="1.25" fill="#8000ff"/><circle cx="568.6" cy="180.7" r="1.25" fill="#8000ff"/><circle cx="570.0" cy="178.6" r="1.25" fill="#8000ff"/><circle cx="574.3" cy="176.4" r="1.25" fill="#8000ff"/><circle cx="578.6" cy="180.7" r="1.25" fill="#8000ff"/><circle cx="573.6" cy="180.0" r="1.25" fill="#8000ff"/><circle cx="575.0" cy="180.7" r="1.25" fill="#8000ff"/><circle cx="560.0" cy="200.0" r="1.25" fill="#8000ff"/><circle cx="558.6" cy="202.9" r="1.25" fill="#8000ff"/><circle cx="555.7" cy="223.6" r="1.25" fill="#8000ff"/><circle cx="568.6" cy="177.1" r="1.25" fill="#8000ff"/><circle cx="594.3" cy="176.4" r="1.25" fill="#8000ff"/><circle cx="592.9" cy="177.9" r="1.25" fill="#8000ff"/><circle cx="554.7" cy="282.4" r="1.25" fill="#8000ff"/><circle cx="624.2" cy="196.5" r="1.25" fill="#8000ff"/><circle cx="628.6" cy="195.7" r="1.25" fill="#8000ff"/><circle cx="633.0" cy="197.2" r="1.25" fill="#8000ff"/><circle cx="635.9" cy="196.5" r="1.25" fill="#8000ff"/><circle cx="638.8" cy="197.9" r="1.25" fill="#8000ff"/><circle cx="641.8" cy="195.7" r="1.25" fill="#8000ff"/><circle cx="644.7" cy="196.5" r="1.25" fill="#8000ff"/><circle cx="647.6" cy="197.9" r="1.25" fill="#8000ff"/><circle cx="650.5" cy="199.4" r="1.25" fill="#8000ff"/><circle cx="653.4" cy="200.1" r="1.25" fill="#8000ff"/><circle cx="656.4" cy="197.2" r="1.25" fill="#8000ff"/><circle cx="659.3" cy="200.8" r="1.25" fill="#8000ff"/><circle cx="647.6" cy="215.4" r="1.25" fill="#8000ff"/><circle cx="650.5" cy="216.9" r="1.25" fill="#8000ff"/><circle cx="653.4" cy="219.8" r="1.25" fill="#8000ff"/><circle cx="644.7" cy="214.0" r="1.25" fill="#8000ff"/><circle cx="641.8" cy="214.0" r="1.25" fill="#8000ff"/><circle cx="615.5" cy="220.5" r="1.25" fill="#8000ff"/><circle cx="618.4" cy="209.6" r="1.25" fill="#8000ff"/><circle cx="621.3" cy="211.1" r="1.25" fill="#8000ff"/><circle cx="624.2" cy="231.5" r="1.25" fill="#8000ff"/><circle cx="638.8" cy="218.4" r="1.25" fill="#8000ff"/><circle cx="641.8" cy="216.9" r="1.25" fill="#8000ff"/><circle cx="566.4" cy="184.0" r="1.25" fill="#8000ff"/><circle cx="567.9" cy="181.8" r="1.25" fill="#8000ff"/><circle cx="569.3" cy="179.6" r="1.25" fill="#8000ff"/><circle cx="576.9" cy="177.1" r="1.25" fill="#8000ff"/></g>
<g fill="#ff0000"><circle cx="125.5" cy="46.1" r="1.25"/><circle cx="159.9" cy="61.3" r="1.25"/><circle cx="184.7" cy="63.9" r="1.25"/><circle cx="204.3" cy="71.2" r="1.25"/><circle cx="204.3" cy="74.7" r="1.25"/><circle cx="220.3" cy="79.1" r="1.25"/><circle cx="220.3" cy="84.6" r="1.25"/><circle cx="232.9" cy="84.6" r="1.25"/><circle cx="245.2" cy="88.7" r="1.25"/><circle cx="264.4" cy="93.1" r="1.25"/><circle cx="264.4" cy="94.5" r="1.25"/><circle cx="272.6" cy="95.7" r="1.25"/><circle cx="272.6" cy="102.4" r="1.25"/><circle cx="279.6" cy="97.5" r="1.25"/><circle cx="286.3" cy="99.0" r="1.25"/><circle cx="298.7" cy="101.4" r="1.25"/><circle cx="298.7" cy="102.6" r="1.25"/><circle cx="304.5" cy="103.7" r="1.25"/><circle cx="310.1" cy="104.0" r="1.25"/><circle cx="313.8" cy="105.4" r="1.25"/><circle cx="319.4" cy="106.6" r="1.25"/><circle cx="323.8" cy="108.0" r="1.25"/><circle cx="323.4" cy="114.9" r="1.25"/><circle cx="327.6" cy="108.0" r="1.25"/><circle cx="327.6" cy="109.3" r="1.25"/><circle cx="331.8" cy="109.6" r="1.25"/><circle cx="338.7" cy="110.7" r="1.25"/><circle cx="338.7" cy="112.1" r="1.25"/><circle cx="343.4" cy="113.3" r="1.25"/><circle cx="345.7" cy="113.3" r="1.25"/><circle cx="345.7" cy="117.5" r="1.25"/><circle cx="349.7" cy="113.6" r="1.25"/><circle cx="349.7" cy="114.9" r="1.25"/><circle cx="355.3" cy="116.3" r="1.25"/><circle cx="358.8" cy="117.5" r="1.25"/><circle cx="361.4" cy="117.5" r="1.25"/><circle cx="364.1" cy="118.9" r="1.25"/><circle cx="364.1" cy="120.1" r="1.25"/><circle cx="366.7" cy="120.1" r="1.25"/><circle cx="369.3" cy="121.2" r="1.25"/><circle cx="374.6" cy="122.0" r="1.25"/><circle cx="374.6" cy="128.5" r="1.25"/><circle cx="377.2" cy="123.3" r="1.25"/><circle cx="381.2" cy="124.5" r="1.25"/><circle cx="383.3" cy="127.7" r="1.25"/><circle cx="385.6" cy="127.7" r="1.25"/><circle cx="386.8" cy="129.9" r="1.25"/><circle cx="386.8" cy="131.5" r="1.25"/><circle cx="390.3" cy="130.3" r="1.25"/><circle cx="393.8" cy="131.5" r="1.25"/><circle cx="393.8" cy="135.5" r="1.25"/><circle cx="396.5" cy="132.6" r="1.25"/><circle cx="399.1" cy="134.7" r="1.25"/><circle cx="395.4" cy="132.9" r="1.25"/><circle cx="397.9" cy="134.3" r="1.25"/><circle cx="400.7" cy="138.3" r="1.25"/><circle cx="402.6" cy="141.1" r="1.25"/><circle cx="404.7" cy="146.4" r="1.25"/><circle cx="404.7" cy="147.9" r="1.25"/><circle cx="406.1" cy="157.4" r="1.25"/><circle cx="407.6" cy="165.7" r="1.25"/><circle cx="407.6" cy="167.1" r="1.25"/><circle cx="409.0" cy="175.0" r="1.25"/><circle cx="422.6" cy="177.9" r="1.25"/><circle cx="426.9" cy="155.7" r="1.25"/><circle cx="428.3" cy="160.0" r="1.25"/><circle cx="429.3" cy="158.6" r="1.25"/><circle cx="430.7" cy="156.9" r="1.25"/><circle cx="431.4" cy="155.7" r="1.25"/><circle cx="429.7" cy="150.0" r="1.25"/><circle cx="430.3" cy="148.6" r="1.25"/><circle cx="431.4" cy="144.3" r="1.25"/><circle cx="432.6" cy="142.9" r="1.25"/><circle cx="435.0" cy="142.1" r="1.25"/><circle cx="437.1" cy="141.4" r="1.25"/><circle cx="439.3" cy="145.4" r="1.25"/><circle cx="439.7" cy="147.1" r="1.25"/><circle cx="440.3" cy="150.7" r="1.25"/><circle cx="433.6" cy="153.1" r="1.25"/><circle cx="435.4" cy="154.3" r="1.25"/><circle cx="437.1" cy="155.4" r="1.25"/><circle cx="439.3" cy="158.6" r="1.25"/><circle cx="439.3" cy="161.7" r="1.25"/><circle cx="440.7" cy="165.7" r="1.25"/><circle cx="443.6" cy="160.7" r="1.25"/><circle cx="444.3" cy="162.1" r="1.25"/><circle cx="445.7" cy="163.6" r="1.25"/><circle cx="448.6" cy="165.4" r="1.25"/><circle cx="409.3" cy="182.6" r="1.25"/><circle cx="410.4" cy="183.6" r="1.25"/><circle cx="413.3" cy="196.9" r="1.25"/><circle cx="414.3" cy="197.4" r="1.25"/><circle cx="440.5" cy="159.5" r="1.25"/><circle cx="440.5" cy="162.4" r="1.25"/><circle cx="446.2" cy="162.4" r="1.25"/><circle cx="450.0" cy="165.2" r="1.25"/><circle cx="451.4" cy="164.8" r="1.25"/><circle cx="452.4" cy="166.2" r="1.25"/><circle cx="453.8" cy="166.7" r="1.25"/><circle cx="455.2" cy="167.6" r="1.25"/><circle cx="457.6" cy="166.2" r="1.25"/><circle cx="458.6" cy="168.1" r="1.25"/><circle cx="462.4" cy="167.1" r="1.25"/><circle cx="466.7" cy="169.5" r="1.25"/><circle cx="468.1" cy="170.0" r="1.25"/><circle cx="469.5" cy="169.5" r="1.25"/><circle cx="471.0" cy="169.0" r="1.25"/><circle cx="467.6" cy="165.7" r="1.25"/><circle cx="472.4" cy="165.2" r="1.25"/><circle cx="474.3" cy="166.7" r="1.25"/><circle cx="476.2" cy="165.7" r="1.25"/><circle cx="475.7" cy="168.6" r="1.25"/><circle cx="477.1" cy="169.5" r="1.25"/><circle cx="478.6" cy="170.5" r="1.25"/><circle cx="470.5" cy="184.8" r="1.25"/><circle cx="469.5" cy="188.6" r="1.25"/><circle cx="492.9" cy="162.1" r="1.25"/><circle cx="494.3" cy="160.7" r="1.25"/><circle cx="495.7" cy="160.0" r="1.25"/><circle cx="497.1" cy="159.3" r="1.25"/><circle cx="498.6" cy="158.6" r="1.25"/><circle cx="500.0" cy="158.3" r="1.25"/><circle cx="501.4" cy="158.6" r="1.25"/><circle cx="502.9" cy="159.3" r="1.25"/><circle cx="503.6" cy="160.7" r="1.25"/><circle cx="502.1" cy="161.4" r="1.25"/><circle cx="500.7" cy="162.1" r="1.25"/><circle cx="498.6" cy="162.9" r="1.25"/><circle cx="497.1" cy="163.6" r="1.25"/><circle cx="495.7" cy="164.3" r="1.25"/><circle cx="494.3" cy="164.3" r="1.25"/><circle cx="497.9" cy="161.4" r="1.25"/><circle cx="500.0" cy="160.7" r="1.25"/><circle cx="504.3" cy="162.9" r="1.25"/><circle cx="505.7" cy="163.6" r="1.25"/><circle cx="508.6" cy="161.4" r="1.25"/><circle cx="510.0" cy="160.7" r="1.25"/><circle cx="511.4" cy="160.0" r="1.25"/><circle cx="512.9" cy="160.7" r="1.25"/><circle cx="514.3" cy="161.4" r="1.25"/><circle cx="515.0" cy="162.9" r="1.25"/><circle cx="512.1" cy="163.6" r="1.25"/><circle cx="510.7" cy="165.0" r="1.25"/><circle cx="513.6" cy="165.7" r="1.25"/><circle cx="515.7" cy="167.1" r="1.25"/><circle cx="517.1" cy="162.9" r="1.25"/><circle cx="517.9" cy="165.0" r="1.25"/><circle cx="518.6" cy="167.1" r="1.25"/><circle cx="480.0" cy="167.1" r="1.25"/><circle cx="481.4" cy="166.4" r="1.25"/><circle cx="482.9" cy="167.1" r="1.25"/><circle cx="484.3" cy="166.4" r="1.25"/><circle cx="485.7" cy="167.1" r="1.25"/><circle cx="487.1" cy="165.7" r="1.25"/><circle cx="488.6" cy="166.4" r="1.25"/><circle cx="490.0" cy="167.9" r="1.25"/><circle cx="482.1" cy="170.0" r="1.25"/><circle cx="483.6" cy="171.4" r="1.25"/><circle cx="485.7" cy="170.7" r="1.25"/><circle cx="487.9" cy="170.0" r="1.25"/><circle cx="490.0" cy="172.9" r="1.25"/><circle cx="491.4" cy="170.0" r="1.25"/><circle cx="492.9" cy="168.6" r="1.25"/><circle cx="494.3" cy="169.3" r="1.25"/><circle cx="495.7" cy="168.6" r="1.25"/><circle cx="497.1" cy="167.9" r="1.25"/><circle cx="498.6" cy="170.0" r="1.25"/><circle cx="500.0" cy="170.7" r="1.25"/><circle cx="501.4" cy="168.6" r="1.25"/><circle cx="502.9" cy="170.0" r="1.25"/><circle cx="504.3" cy="170.7" r="1.25"/><circle cx="505.7" cy="169.3" r="1.25"/><circle cx="507.1" cy="170.7" r="1.25"/><circle cx="508.6" cy="171.4" r="1.25"/><circle cx="510.0" cy="172.1" r="1.25"/><circle cx="511.4" cy="174.3" r="1.25"/><circle cx="512.9" cy="172.9" r="1.25"/><circle cx="514.3" cy="171.4" r="1.25"/><circle cx="515.7" cy="168.6" r="1.25"/><circle cx="517.1" cy="172.1" r="1.25"/><circle cx="518.6" cy="175.0" r="1.25"/><circle cx="520.0" cy="175.7" r="1.25"/><circle cx="522.1" cy="174.3" r="1.25"/><circle cx="522.9" cy="172.9" r="1.25"/><circle cx="524.3" cy="175.0" r="1.25"/><circle cx="525.7" cy="173.6" r="1.25"/><circle cx="527.1" cy="172.6" r="1.25"/><circle cx="528.6" cy="174.3" r="1.25"/><circle cx="488.6" cy="187.1" r="1.25"/><circle cx="497.9" cy="177.1" r="1.25"/><circle cx="500.0" cy="175.7" r="1.25"/><circle cx="507.1" cy="187.1" r="1.25"/><circle cx="512.1" cy="189.3" r="1.25"/><circle cx="517.9" cy="180.7" r="1.25"/><circle cx="521.4" cy="181.4" r="1.25"/><circle cx="522.9" cy="179.3" r="1.25"/><circle cx="528.6" cy="181.4" r="1.25"/><circle cx="531.4" cy="179.3" r="1.25"/><circle cx="532.9" cy="182.9" r="1.25"/><circle cx="534.3" cy="184.3" r="1.25"/><circle cx="535.0" cy="187.1" r="1.25"/><circle cx="536.4" cy="185.7" r="1.25"/><circle cx="537.9" cy="182.9" r="1.25"/><circle cx="538.6" cy="190.0" r="1.25"/><circle cx="530.0" cy="187.1" r="1.25"/><circle cx="531.4" cy="190.0" r="1.25"/><circle cx="534.3" cy="190.7" r="1.25"/><circle cx="522.9" cy="194.3" r="1.25"/><circle cx="527.1" cy="197.1" r="1.25"/><circle cx="519.3" cy="197.9" r="1.25"/><circle cx="466.9" cy="196.0" r="1.25"/><circle cx="509.3" cy="192.9" r="1.25"/><circle cx="520.7" cy="197.1" r="1.25"/><circle cx="525.0" cy="197.1" r="1.25"/><circle cx="526.4" cy="195.0" r="1.25"/><circle cx="525.7" cy="200.0" r="1.25"/><circle cx="530.0" cy="204.3" r="1.25"/><circle cx="532.9" cy="217.9" r="1.25"/><circle cx="545.7" cy="212.1" r="1.25"/><circle cx="547.9" cy="208.6" r="1.25"/><circle cx="548.6" cy="197.1" r="1.25"/><circle cx="550.7" cy="197.9" r="1.25"/><circle cx="552.9" cy="198.6" r="1.25"/><circle cx="555.0" cy="197.1" r="1.25"/><circle cx="557.1" cy="199.3" r="1.25"/><circle cx="558.6" cy="200.0" r="1.25"/><circle cx="558.6" cy="205.0" r="1.25"/><circle cx="557.9" cy="211.4" r="1.25"/><circle cx="558.6" cy="218.6" r="1.25"/><circle cx="557.1" cy="219.3" r="1.25"/><circle cx="517.9" cy="227.4" r="1.25"/><circle cx="520.7" cy="234.3" r="1.25"/><circle cx="522.9" cy="232.9" r="1.25"/><circle cx="534.3" cy="232.9" r="1.25"/><circle cx="521.4" cy="245.0" r="1.25"/><circle cx="570.0" cy="153.6" r="1.25"/><circle cx="572.1" cy="152.1" r="1.25"/><circle cx="573.6" cy="154.3" r="1.25"/><circle cx="575.0" cy="152.9" r="1.25"/><circle cx="574.3" cy="155.7" r="1.25"/><circle cx="576.4" cy="156.4" r="1.25"/><circle cx="575.7" cy="157.9" r="1.25"/><circle cx="577.9" cy="151.4" r="1.25"/><circle cx="562.9" cy="157.9" r="1.25"/><circle cx="564.3" cy="157.1" r="1.25"/><circle cx="566.4" cy="162.9" r="1.25"/><circle cx="570.0" cy="164.3" r="1.25"/><circle cx="555.7" cy="164.3" r="1.25"/><circle cx="557.1" cy="165.7" r="1.25"/><circle cx="554.3" cy="167.1" r="1.25"/><circle cx="552.9" cy="168.6" r="1.25"/><circle cx="550.7" cy="167.1" r="1.25"/><circle cx="549.3" cy="167.9" r="1.25"/><circle cx="551.4" cy="170.0" r="1.25"/><circle cx="542.9" cy="168.6" r="1.25"/><circle cx="544.3" cy="170.7" r="1.25"/><circle cx="560.0" cy="162.9" r="1.25"/><circle cx="558.6" cy="165.7" r="1.25"/><circle cx="577.1" cy="163.6" r="1.25"/><circle cx="574.3" cy="167.1" r="1.25"/><circle cx="568.6" cy="171.4" r="1.25"/><circle cx="565.7" cy="170.7" r="1.25"/><circle cx="574.3" cy="174.3" r="1.25"/><circle cx="575.7" cy="176.4" r="1.25"/><circle cx="578.6" cy="175.0" r="1.25"/><circle cx="580.7" cy="174.3" r="1.25"/><circle cx="582.9" cy="172.9" r="1.25"/><circle cx="584.3" cy="176.4" r="1.25"/><circle cx="588.6" cy="162.9" r="1.25"/><circle cx="587.1" cy="166.4" r="1.25"/><circle cx="591.4" cy="164.3" r="1.25"/><circle cx="596.4" cy="162.1" r="1.25"/><circle cx="598.6" cy="160.0" r="1.25"/><circle cx="597.1" cy="165.7" r="1.25"/><circle cx="594.3" cy="167.1" r="1.25"/><circle cx="578.6" cy="169.3" r="1.25"/><circle cx="542.9" cy="177.1" r="1.25"/><circle cx="546.4" cy="176.4" r="1.25"/><circle cx="600.0" cy="227.9" r="1.25"/><circle cx="615.2" cy="228.8" r="1.25"/><circle cx="620.9" cy="226.0" r="1.25"/><circle cx="627.6" cy="226.0" r="1.25"/><circle cx="630.4" cy="227.9" r="1.25"/><circle cx="633.3" cy="229.8" r="1.25"/><circle cx="636.1" cy="229.8" r="1.25"/><circle cx="640.9" cy="226.0" r="1.25"/><circle cx="642.8" cy="228.8" r="1.25"/><circle cx="644.7" cy="233.6" r="1.25"/><circle cx="649.5" cy="230.7" r="1.25"/><circle cx="651.4" cy="228.8" r="1.25"/><circle cx="653.3" cy="233.6" r="1.25"/><circle cx="655.2" cy="231.7" r="1.25"/><circle cx="657.1" cy="228.8" r="1.25"/><circle cx="659.0" cy="233.6" r="1.25"/><circle cx="660.9" cy="226.9" r="1.25"/><circle cx="660.9" cy="233.6" r="1.25"/><circle cx="607.6" cy="242.1" r="1.25"/><circle cx="620.9" cy="242.1" r="1.25"/><circle cx="623.8" cy="245.0" r="1.25"/><circle cx="627.6" cy="245.9" r="1.25"/><circle cx="630.4" cy="244.0" r="1.25"/><circle cx="630.4" cy="248.8" r="1.25"/><circle cx="636.1" cy="234.5" r="1.25"/><circle cx="639.0" cy="245.0" r="1.25"/><circle cx="639.0" cy="249.3" r="1.25"/><circle cx="646.6" cy="240.2" r="1.25"/><circle cx="648.5" cy="250.7" r="1.25"/><circle cx="655.2" cy="249.3" r="1.25"/><circle cx="658.0" cy="257.3" r="1.25"/><circle cx="620.9" cy="253.5" r="1.25"/><circle cx="630.4" cy="265.9" r="1.25"/><circle cx="632.0" cy="270.3" r="1.25"/><circle cx="629.5" cy="278.3" r="1.25"/><circle cx="634.2" cy="284.9" r="1.25"/><circle cx="635.2" cy="289.3" r="1.25"/><circle cx="637.1" cy="289.3" r="1.25"/><circle cx="641.5" cy="290.6" r="1.25"/><circle cx="656.7" cy="268.8" r="1.25"/><circle cx="656.7" cy="281.1" r="1.25"/><circle cx="659.3" cy="296.3" r="1.25"/><circle cx="540.0" cy="183.6" r="1.25"/><circle cx="541.4" cy="185.0" r="1.25"/><circle cx="542.1" cy="188.6" r="1.25"/><circle cx="543.6" cy="190.7" r="1.25"/><circle cx="547.9" cy="180.7" r="1.25"/><circle cx="548.6" cy="182.1" r="1.25"/><circle cx="544.3" cy="177.9" r="1.25"/><circle cx="557.9" cy="196.4" r="1.25"/><circle cx="565.7" cy="185.0" r="1.25"/><circle cx="566.4" cy="186.4" r="1.25"/><circle cx="567.1" cy="194.3" r="1.25"/><circle cx="566.4" cy="200.7" r="1.25"/><circle cx="567.1" cy="202.9" r="1.25"/><circle cx="571.4" cy="190.7" r="1.25"/><circle cx="575.7" cy="190.7" r="1.25"/><circle cx="577.1" cy="192.1" r="1.25"/><circle cx="578.6" cy="197.9" r="1.25"/><circle cx="575.0" cy="201.4" r="1.25"/><circle cx="570.0" cy="200.0" r="1.25"/><circle cx="570.7" cy="206.4" r="1.25"/><circle cx="565.7" cy="208.6" r="1.25"/><circle cx="569.3" cy="213.6" r="1.25"/><circle cx="572.9" cy="225.0" r="1.25"/><circle cx="574.3" cy="224.3" r="1.25"/><circle cx="576.4" cy="225.7" r="1.25"/><circle cx="570.7" cy="225.0" r="1.25"/><circle cx="582.1" cy="215.7" r="1.25"/><circle cx="585.0" cy="210.7" r="1.25"/><circle cx="588.6" cy="219.3" r="1.25"/><circle cx="591.4" cy="185.7" r="1.25"/><circle cx="595.7" cy="190.7" r="1.25"/><circle cx="597.1" cy="197.9" r="1.25"/><circle cx="595.0" cy="210.7" r="1.25"/><circle cx="595.7" cy="220.7" r="1.25"/><circle cx="598.6" cy="219.3" r="1.25"/><circle cx="550.0" cy="192.1" r="1.25"/><circle cx="554.3" cy="212.9" r="1.25"/><circle cx="580.0" cy="175.7" r="1.25"/><circle cx="552.1" cy="257.9" r="1.25"/><circle cx="561.7" cy="246.9" r="1.25"/><circle cx="568.6" cy="264.6" r="1.25"/><circle cx="577.9" cy="264.6" r="1.25"/><circle cx="583.6" cy="266.0" r="1.25"/><circle cx="583.6" cy="239.7" r="1.25"/><circle cx="587.9" cy="256.4" r="1.25"/><circle cx="590.7" cy="255.0" r="1.25"/><circle cx="596.0" cy="251.0" r="1.25"/><circle cx="598.6" cy="234.3" r="1.25"/><circle cx="462.6" cy="256.4" r="1.25"/><circle cx="462.6" cy="263.1" r="1.25"/><circle cx="462.6" cy="275.7" r="1.25"/><circle cx="602.3" cy="197.2" r="1.25"/><circle cx="608.2" cy="202.3" r="1.25"/><circle cx="614.0" cy="205.9" r="1.25"/><circle cx="617.7" cy="200.8" r="1.25"/><circle cx="624.2" cy="206.7" r="1.25"/><circle cx="630.1" cy="203.8" r="1.25"/><circle cx="635.9" cy="201.6" r="1.25"/><circle cx="641.8" cy="201.6" r="1.25"/><circle cx="647.6" cy="203.0" r="1.25"/><circle cx="653.4" cy="205.2" r="1.25"/><circle cx="633.0" cy="211.1" r="1.25"/><circle cx="638.8" cy="211.1" r="1.25"/><circle cx="621.3" cy="218.4" r="1.25"/><circle cx="624.2" cy="219.8" r="1.25"/><circle cx="627.2" cy="221.3" r="1.25"/><circle cx="628.6" cy="224.2" r="1.25"/><circle cx="630.1" cy="225.7" r="1.25"/><circle cx="631.5" cy="228.6" r="1.25"/><circle cx="633.0" cy="227.1" r="1.25"/><circle cx="626.4" cy="225.7" r="1.25"/><circle cx="628.6" cy="230.8" r="1.25"/><circle cx="641.8" cy="220.5" r="1.25"/><circle cx="647.6" cy="221.3" r="1.25"/><circle cx="650.5" cy="224.2" r="1.25"/><circle cx="653.4" cy="228.6" r="1.25"/><circle cx="654.9" cy="230.0" r="1.25"/><circle cx="656.4" cy="231.5" r="1.25"/><circle cx="659.3" cy="228.6" r="1.25"/><circle cx="650.5" cy="231.5" r="1.25"/><circle cx="652.0" cy="233.0" r="1.25"/><circle cx="644.7" cy="228.6" r="1.25"/><circle cx="641.8" cy="233.0" r="1.25"/><circle cx="638.8" cy="224.2" r="1.25"/><circle cx="633.0" cy="218.4" r="1.25"/><circle cx="602.3" cy="206.7" r="1.25"/><circle cx="601.6" cy="222.0" r="1.25"/><circle cx="608.2" cy="208.1" r="1.25"/><circle cx="617.7" cy="232.2" r="1.25"/><circle cx="621.3" cy="223.5" r="1.25"/><circle cx="540.7" cy="168.6" r="1.25"/><circle cx="542.9" cy="170.0" r="1.25"/><circle cx="552.9" cy="167.1" r="1.25"/><circle cx="554.3" cy="169.3" r="1.25"/><circle cx="555.0" cy="165.7" r="1.25"/><circle cx="557.1" cy="167.1" r="1.25"/><circle cx="558.6" cy="169.3" r="1.25"/><circle cx="553.6" cy="170.7" r="1.25"/><circle cx="597.5" cy="161.8" r="1.25"/><circle cx="600.4" cy="160.1" r="1.25"/><circle cx="602.9" cy="158.8" r="1.25"/><circle cx="604.6" cy="161.3" r="1.25"/><circle cx="605.8" cy="153.4" r="1.25"/><circle cx="609.2" cy="152.6" r="1.25"/><circle cx="611.2" cy="155.9" r="1.25"/><circle cx="607.1" cy="164.2" r="1.25"/><circle cx="612.5" cy="165.5" r="1.25"/><circle cx="615.0" cy="164.2" r="1.25"/><circle cx="601.7" cy="168.0" r="1.25"/><circle cx="591.7" cy="168.4" r="1.25"/><circle cx="608.1" cy="235.5" r="1.25"/><circle cx="621.6" cy="181.0" r="1.25"/><circle cx="585.7" cy="148.4" r="1.25"/><circle cx="640.3" cy="203.8" r="1.25"/><circle cx="650.3" cy="175.2" r="1.25"/><circle cx="649.6" cy="177.2" r="1.25"/><circle cx="643.1" cy="207.3" r="1.25"/><circle cx="631.1" cy="189.4" r="1.25"/><circle cx="602.2" cy="212.6" r="1.25"/><circle cx="611.0" cy="188.6" r="1.25"/><circle cx="653.1" cy="181.7" r="1.25"/><circle cx="627.9" cy="201.1" r="1.25"/><circle cx="604.6" cy="166.3" r="1.25"/><circle cx="603.8" cy="166.1" r="1.25"/><circle cx="604.1" cy="171.9" r="1.25"/><circle cx="632.7" cy="234.2" r="1.25"/><circle cx="604.3" cy="186.6" r="1.25"/><circle cx="615.4" cy="190.7" r="1.25"/><circle cx="612.2" cy="193.4" r="1.25"/><circle cx="637.1" cy="200.6" r="1.25"/><circle cx="605.9" cy="163.4" r="1.25"/><circle cx="635.2" cy="201.6" r="1.25"/><circle cx="661.1" cy="183.3" r="1.25"/><circle cx="661.0" cy="179.9" r="1.25"/><circle cx="620.0" cy="191.7" r="1.25"/><circle cx="660.1" cy="210.4" r="1.25"/><circle cx="656.7" cy="199.6" r="1.25"/><circle cx="615.2" cy="205.5" r="1.25"/><circle cx="563.8" cy="236.6" r="1.25"/><circle cx="654.8" cy="209.8" r="1.25"/><circle cx="611.2" cy="206.1" r="1.25"/><circle cx="632.3" cy="214.5" r="1.25"/><circle cx="612.6" cy="219.9" r="1.25"/><circle cx="612.3" cy="218.9" r="1.25"/><circle cx="615.0" cy="219.1" r="1.25"/><circle cx="650.2" cy="232.1" r="1.25"/><circle cx="655.6" cy="216.2" r="1.25"/><circle cx="630.1" cy="213.5" r="1.25"/><circle cx="645.1" cy="220.2" r="1.25"/><circle cx="647.5" cy="232.7" r="1.25"/><circle cx="610.1" cy="155.2" r="1.25"/><circle cx="608.3" cy="159.3" r="1.25"/><circle cx="610.2" cy="156.2" r="1.25"/></g>
<polyline points="297.9,180.1 299.8,180.6 302.2,181.2 305.1,182.0 308.4,182.8 312.0,183.7 315.7,184.5 319.5,185.3 323.3,185.9 327.3,186.4 331.7,186.8 336.3,187.2 341.0,187.6 345.6,187.9 350.2,188.1 354.4,188.3 358.3,188.4 361.8,188.4 364.9,188.4 367.9,188.2 370.7,188.1 373.4,187.9 376.0,187.6 378.5,187.5 381.1,187.3 383.5,187.2 385.6,187.1 387.5,187.0 389.5,187.0 391.5,186.9 393.9,186.8 396.7,186.6 400.0,186.4 404.0,186.1 408.5,185.8 413.5,185.5 418.7,185.2 424.1,184.8 429.5,184.4 434.9,184.0 440.0,183.6 444.9,183.2 449.5,182.8 454.1,182.5 458.8,182.1 463.5,181.7 468.6,181.2 474.0,180.8 480.0,180.3 486.5,179.8 493.6,179.2 501.0,178.6 508.8,178.0 516.6,177.4 524.5,176.7 532.4,176.1 540.0,175.5 547.5,174.9 555.0,174.3 562.4,173.7 569.9,173.1 577.4,172.5 584.9,171.9 592.4,171.2 600.0,170.6 608.1,169.9 616.8,169.2 625.8,168.4 634.8,167.6 643.2,166.9 650.8,166.2 657.2,165.6 662.0,165.2" fill="none" stroke="#000" stroke-width="2.5" stroke-linejoin="round"/>
<polyline points="300.6,233.9 302.8,234.2 305.8,234.5 309.4,235.0 313.4,235.4 317.5,235.9 321.6,236.3 325.5,236.7 328.9,237.0 332.0,237.2 334.9,237.3 337.6,237.4 340.3,237.5 343.0,237.5 345.7,237.5 348.4,237.5 351.3,237.4 354.3,237.3 357.2,237.1 360.3,236.8 363.3,236.6 366.4,236.3 369.6,236.0 372.7,235.7 375.9,235.5 379.1,235.3 382.4,235.1 385.7,234.9 389.0,234.7 392.4,234.5 395.7,234.3 399.1,234.1 402.5,233.9 405.9,233.7 409.5,233.4 413.1,233.1 416.7,232.8 420.2,232.5 423.6,232.3 426.9,232.0 430.0,231.7 432.7,231.4 434.8,231.2 436.7,231.0 438.6,230.8 440.6,230.5 443.1,230.3 446.1,230.0 450.0,229.6 454.7,229.2 460.2,228.7 466.1,228.1 472.5,227.6 479.2,227.0 486.1,226.4 493.1,225.9 500.0,225.3 507.2,224.8 514.8,224.2 522.6,223.7 530.6,223.1 538.5,222.6 546.2,222.0 553.4,221.5 560.0,221.0 565.9,220.5 571.3,220.1 576.3,219.7 581.0,219.2 585.6,218.8 590.2,218.4 594.9,218.0 600.0,217.5 605.6,217.0 611.8,216.4 618.1,215.9 624.5,215.3 630.5,214.7 636.0,214.2 640.6,213.8 644.0,213.5" fill="none" stroke="#996633" stroke-width="3" stroke-linejoin="round"/>
<rect x="91.2" y="2.2" width="581.0" height="358.4" fill="none" stroke="#000" stroke-width="1.6"/>
<path d="M204.45 360.60V354.60M204.45 2.20V8.20M264.20 360.60V354.60M264.20 2.20V8.20M402.95 360.60V354.60M402.95 2.20V8.20M462.70 360.60V354.60M462.70 2.20V8.20M601.45 360.60V354.60M601.45 2.20V8.20M661.20 360.60V354.60M661.20 2.20V8.20M125.45 360.60V357.10M125.45 2.20V5.70M160.41 360.60V357.10M160.41 2.20V5.70M185.21 360.60V357.10M185.21 2.20V5.70M220.16 360.60V357.10M220.16 2.20V5.70M233.45 360.60V357.10M233.45 2.20V5.70M244.96 360.60V357.10M244.96 2.20V5.70M255.12 360.60V357.10M255.12 2.20V5.70M323.95 360.60V357.10M323.95 2.20V5.70M358.91 360.60V357.10M358.91 2.20V5.70M383.71 360.60V357.10M383.71 2.20V5.70M418.66 360.60V357.10M418.66 2.20V5.70M431.95 360.60V357.10M431.95 2.20V5.70M443.46 360.60V357.10M443.46 2.20V5.70M453.62 360.60V357.10M453.62 2.20V5.70M522.45 360.60V357.10M522.45 2.20V5.70M557.41 360.60V357.10M557.41 2.20V5.70M582.21 360.60V357.10M582.21 2.20V5.70M617.16 360.60V357.10M617.16 2.20V5.70M630.45 360.60V357.10M630.45 2.20V5.70M641.96 360.60V357.10M641.96 2.20V5.70M652.12 360.60V357.10M652.12 2.20V5.70M91.20 342.75H97.20M672.20 342.75H666.20M91.20 324.82H94.70M672.20 324.82H668.70M91.20 306.89H94.70M672.20 306.89H668.70M91.20 288.96H94.70M672.20 288.96H668.70M91.20 271.03H94.70M672.20 271.03H668.70M91.20 253.10H97.20M672.20 253.10H666.20M91.20 235.17H94.70M672.20 235.17H668.70M91.20 217.24H94.70M672.20 217.24H668.70M91.20 199.31H94.70M672.20 199.31H668.70M91.20 181.38H94.70M672.20 181.38H668.70M91.20 163.45H97.20M672.20 163.45H666.20M91.20 145.52H94.70M672.20 145.52H668.70M91.20 127.59H94.70M672.20 127.59H668.70M91.20 109.66H94.70M672.20 109.66H668.70M91.20 91.73H94.70M672.20 91.73H668.70M91.20 73.80H97.20M672.20 73.80H666.20M91.20 55.87H94.70M672.20 55.87H668.70M91.20 37.94H94.70M672.20 37.94H668.70M91.20 20.01H94.70M672.20 20.01H668.70" stroke="#000" stroke-width="1.3" fill="none"/>
<text x="41.63" y="81.4" font-size="24.5">10</text><rect x="66.80" y="67.00" width="9.2" height="1.15" fill="#000"/><text x="76.60" y="72.4" font-size="17">4</text><text x="41.63" y="171.2" font-size="24.5">10</text><rect x="66.80" y="156.80" width="9.2" height="1.15" fill="#000"/><text x="76.60" y="162.2" font-size="17">9</text><text x="33.13" y="261.0" font-size="24.5">10</text><rect x="58.30" y="246.60" width="9.2" height="1.15" fill="#000"/><text x="68.10" y="252.0" font-size="17">14</text><text x="33.13" y="350.8" font-size="24.5">10</text><rect x="58.30" y="336.40" width="9.2" height="1.15" fill="#000"/><text x="68.10" y="341.8" font-size="17">19</text>
<text x="204.4" y="382.8" text-anchor="middle" font-size="24.5">5</text><text x="264.2" y="382.8" text-anchor="middle" font-size="24.5">10</text><text x="402.9" y="382.8" text-anchor="middle" font-size="24.5">50</text><text x="462.7" y="382.8" text-anchor="middle" font-size="24.5">100</text><text x="601.4" y="382.8" text-anchor="middle" font-size="24.5">500</text><text x="660.4" y="382.8" text-anchor="middle" font-size="24.5">1000</text>
<text x="0" y="0" font-size="24.5" font-style="italic" transform="translate(332.1,415.6) scale(1.12,1)">m</text>
<text x="351.0" y="418.1" font-size="17.5" font-style="italic">S</text>
<text x="367.6" y="414.8" font-size="24.3">[GeV]</text>
<g transform="rotate(-90)">
<text x="0" y="0" font-size="25" font-style="italic" transform="translate(-227.3,16.9) scale(1.325,1)">σ</text>
<text x="-209.2" y="19.9" font-size="16.5">DD</text>
<text x="0" y="0" font-size="25.5" transform="translate(-176.1,17.4) scale(0.93,1)">[pb]</text>
</g>
<rect x="109.3" y="162.2" width="12.2" height="12.2" fill="#00ffff" stroke="#00b4b4" stroke-width="0.8"/><text x="0" y="0" font-size="24.5" font-style="italic" transform="translate(129.0,176.5) scale(1.08,1)">m</text><text x="147.8" y="180.5" font-size="17.3">h2</text><rect x="168.0" y="167.10" width="12.9" height="1.2" fill="#000"/><rect x="168.0" y="172.80" width="12.9" height="1.2" fill="#000"/><text x="183.2" y="176.5" font-size="25">200 GeV</text><rect x="109.3" y="195.2" width="12.2" height="12.2" fill="#0064ff" stroke="#0046b4" stroke-width="0.8"/><text x="0" y="0" font-size="24.5" font-style="italic" transform="translate(129.0,209.5) scale(1.08,1)">m</text><text x="147.8" y="213.5" font-size="17.3">h2</text><rect x="168.0" y="200.10" width="12.9" height="1.2" fill="#000"/><rect x="168.0" y="205.80" width="12.9" height="1.2" fill="#000"/><text x="183.2" y="209.5" font-size="25">400 GeV</text><rect x="109.3" y="228.2" width="12.2" height="12.2" fill="#8000ff" stroke="#5a00b4" stroke-width="0.8"/><text x="0" y="0" font-size="24.5" font-style="italic" transform="translate(129.0,242.5) scale(1.08,1)">m</text><text x="147.8" y="246.5" font-size="17.3">h2</text><rect x="168.0" y="233.10" width="12.9" height="1.2" fill="#000"/><rect x="168.0" y="238.80" width="12.9" height="1.2" fill="#000"/><text x="183.2" y="242.5" font-size="25">600 GeV</text><rect x="109.3" y="261.2" width="12.2" height="12.2" fill="#ff0000" stroke="#b40000" stroke-width="0.8"/><text x="129.6" y="275.5" font-size="24.5">Rejected</text><rect x="109.3" y="294.2" width="12.2" height="12.2" fill="#000000" stroke="#000000" stroke-width="0.8"/><text x="129.5" y="308.5" font-size="24.85">XENON1T Limit</text><rect x="109.3" y="327.2" width="12.2" height="12.2" fill="#996633" stroke="#6b4724" stroke-width="0.8"/><text x="129.9" y="341.5" font-size="24.85">Neutrino Floor</text>
</svg>
</body></html>
